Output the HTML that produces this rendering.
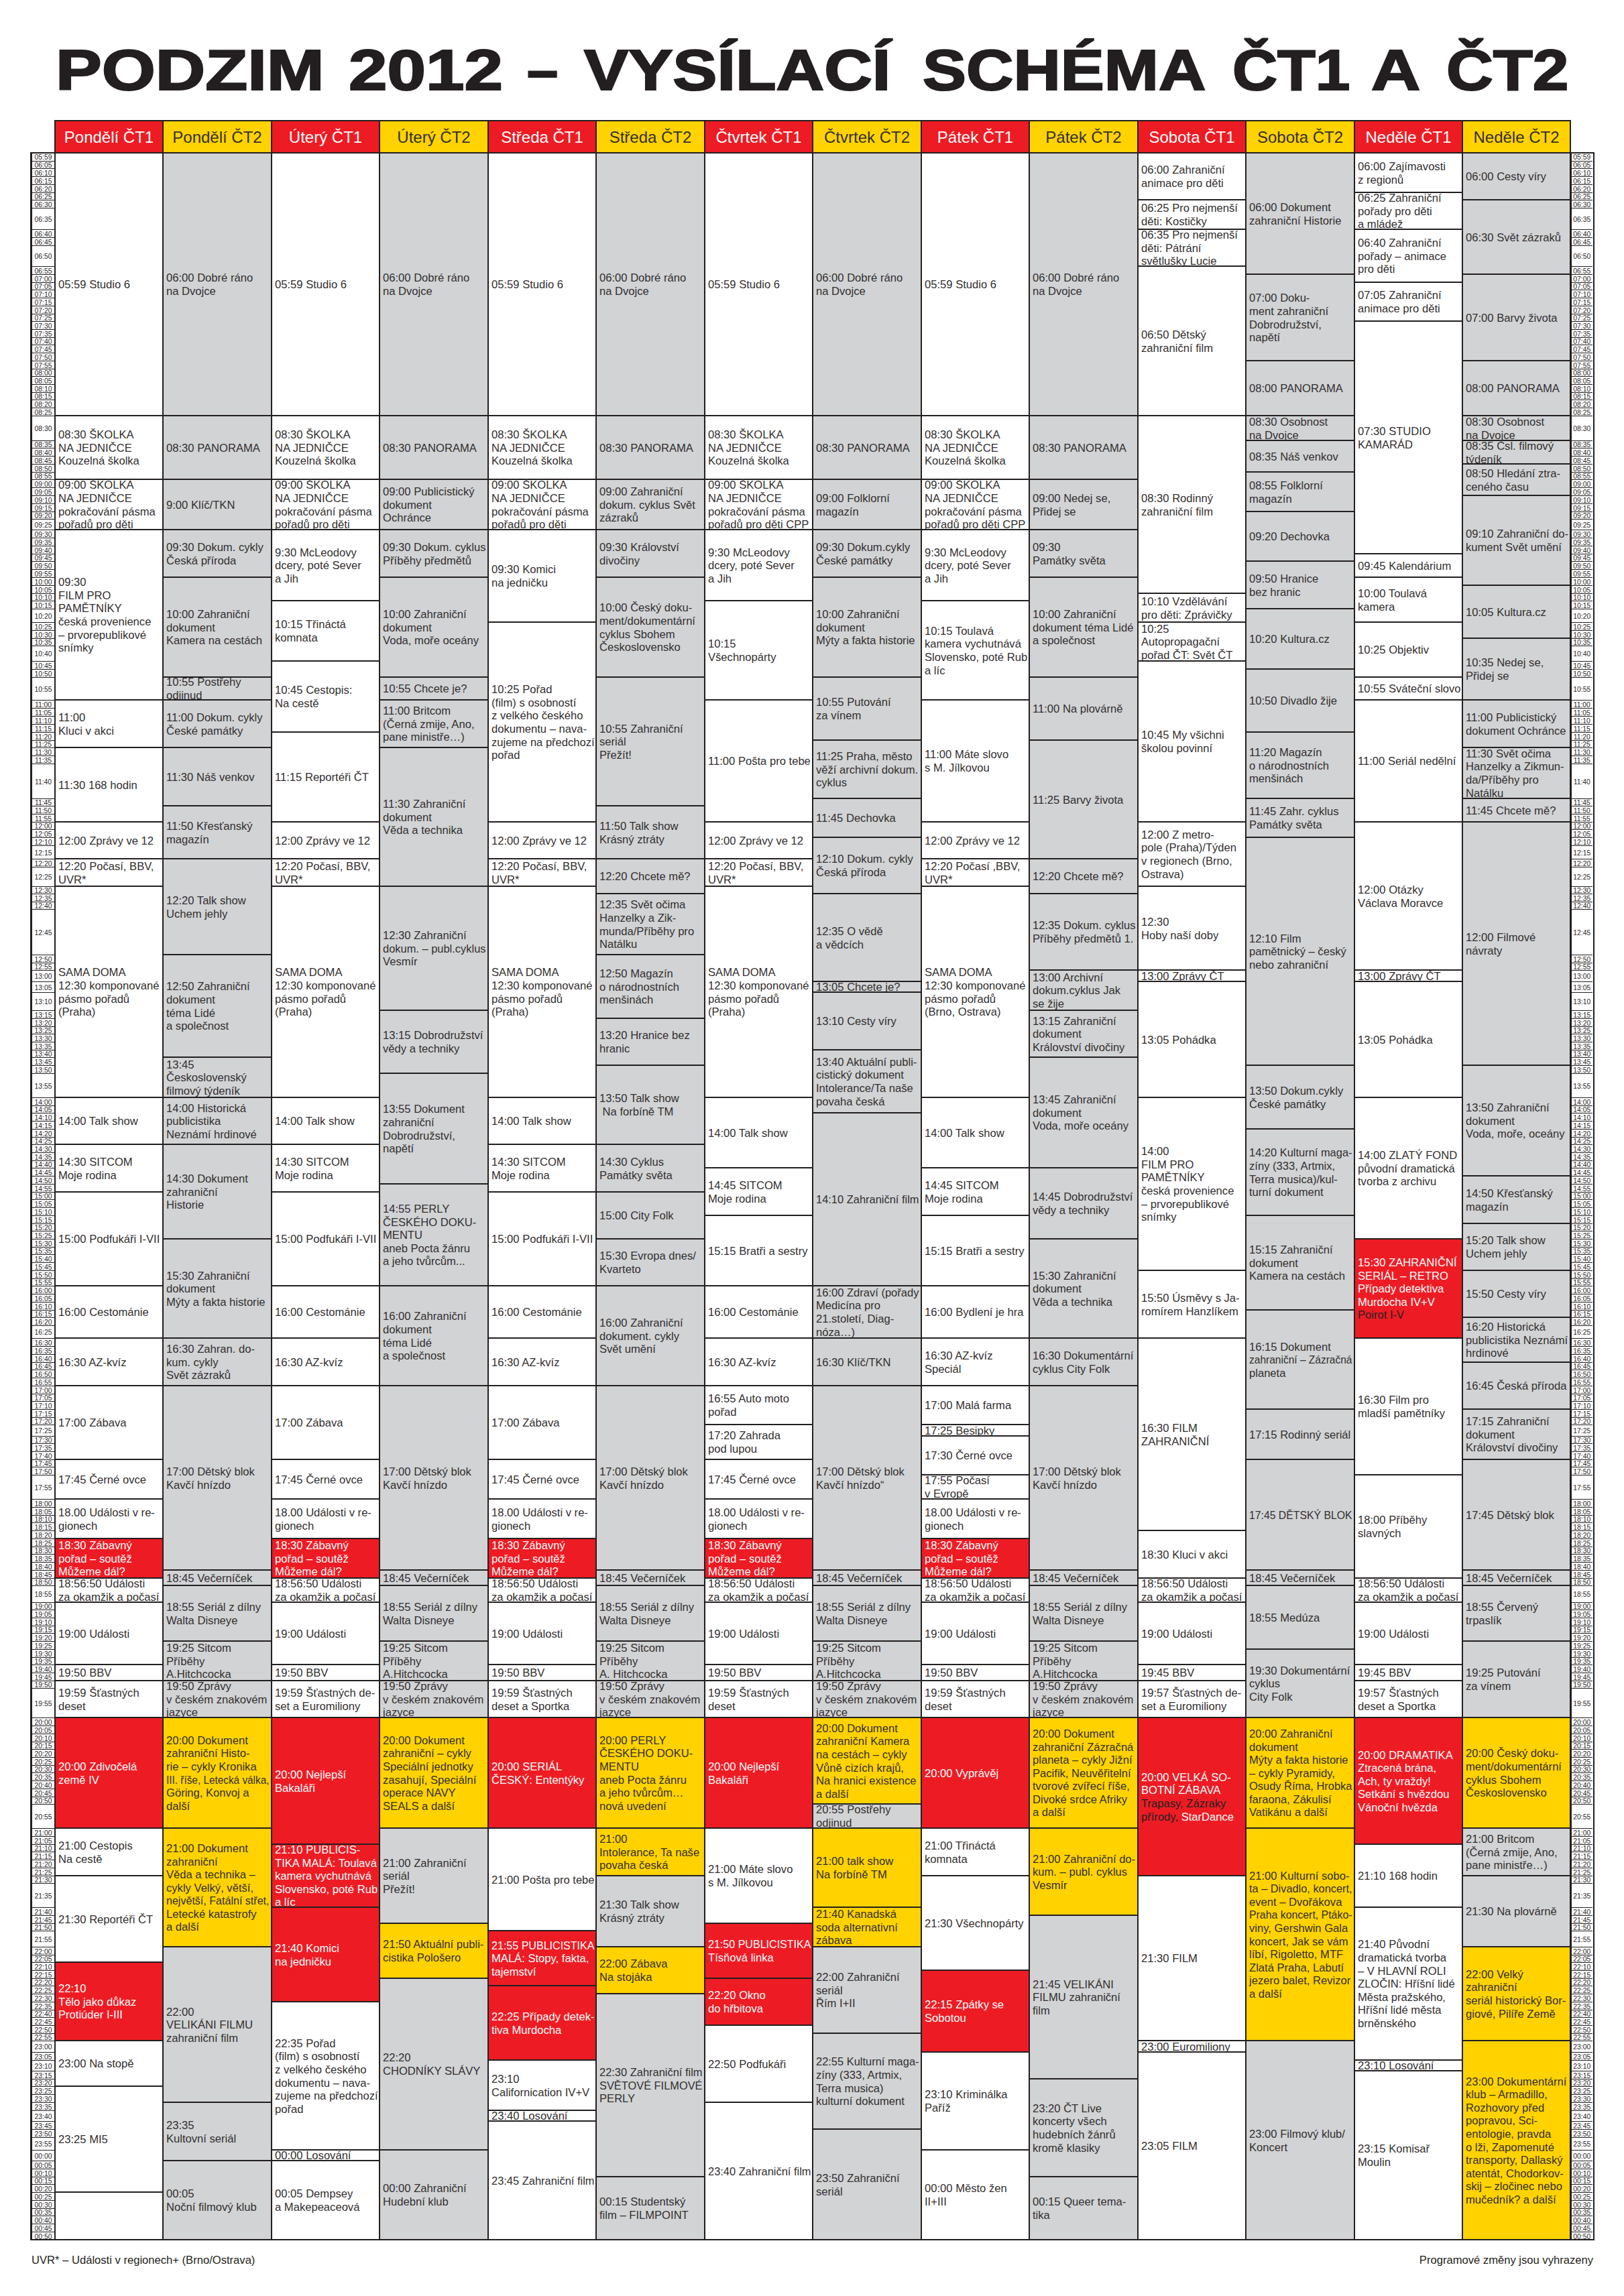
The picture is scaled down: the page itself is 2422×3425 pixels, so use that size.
<!DOCTYPE html>
<html lang="cs"><head><meta charset="utf-8"><title>Podzim 2012 – vysílací schéma ČT1 a ČT2</title>
<style>
html,body{margin:0;padding:0;background:#fff}
body{width:2422px;height:3425px;position:relative;overflow:hidden;font-family:"Liberation Sans",sans-serif;color:#231f20}
.c{position:absolute;box-sizing:border-box;border:2px solid #231f20;padding:2px 0 0 4px;display:flex;align-items:center;font-size:16.6px;line-height:19.6px;white-space:nowrap;overflow:visible}
.c span{display:block}
.w,.g,.y{color:#332f30}.w{background:#fff}.g{background:#d1d3d4}.y{background:#ffd200}.r{background:#ed1c24;color:#fff}
.r b{color:#231f20;font-weight:normal}
.h{position:absolute;box-sizing:border-box;border:2px solid #231f20;top:179px;height:50px;font-size:24px;line-height:48px;text-align:center;white-space:nowrap}
.t{position:absolute;box-sizing:border-box;border-top:1px solid #231f20;font-size:10.4px;text-align:center;display:flex;align-items:center;justify-content:center;color:#2b2728;padding-top:1px}
.tb{position:absolute;box-sizing:border-box;border:2px solid #231f20;background:#fff}
#title span{position:absolute;top:55px;font-size:85px;line-height:100px;font-weight:bold;white-space:nowrap;transform-origin:0 0;-webkit-text-stroke:2.2px #231f20;color:#231f20}
.f{position:absolute;font-size:16.6px;line-height:20px;white-space:nowrap;top:3362px}
</style></head><body>
<div id="title"><span style="left:82.5px;transform:scaleX(1.2121)">PODZIM</span> <span style="left:519.6px;transform:scaleX(1.2162)">2012</span> <span style="left:786.0px;transform:scaleX(0.9773)">–</span> <span style="left:871.1px;transform:scaleX(1.1667)">VYSÍLACÍ</span> <span style="left:1376.1px;transform:scaleX(1.1467)">SCHÉMA</span> <span style="left:1837.5px;transform:scaleX(1.0924)">ČT1</span> <span style="left:2045.4px;transform:scaleX(1.1932)">A</span> <span style="left:2156.7px;transform:scaleX(1.1365)">ČT2</span> </div>

<div class="h r" style="left:81px;width:163px">Pondělí ČT1</div>
<div class="h y" style="left:242px;width:164px">Pondělí ČT2</div>
<div class="h r" style="left:404px;width:163px">Úterý ČT1</div>
<div class="h y" style="left:565px;width:164px">Úterý ČT2</div>
<div class="h r" style="left:727px;width:163px">Středa ČT1</div>
<div class="h y" style="left:888px;width:164px">Středa ČT2</div>
<div class="h r" style="left:1050px;width:163px">Čtvrtek ČT1</div>
<div class="h y" style="left:1211px;width:164px">Čtvrtek ČT2</div>
<div class="h r" style="left:1373px;width:163px">Pátek ČT1</div>
<div class="h y" style="left:1534px;width:164px">Pátek ČT2</div>
<div class="h r" style="left:1696px;width:163px">Sobota ČT1</div>
<div class="h y" style="left:1857px;width:164px">Sobota ČT2</div>
<div class="h r" style="left:2019px;width:163px">Neděle ČT1</div>
<div class="h y" style="left:2180px;width:163px">Neděle ČT2</div>
<div class="tb" style="left:45px;top:227px;width:38px;height:3115px;border-left-width:3px;border-right-width:2px"></div>
<div class="t" style="left:48px;width:33px;top:228px;height:12px;border-top:0">05:59</div>
<div class="t" style="left:48px;width:33px;top:240px;height:11px">06:05</div>
<div class="t" style="left:48px;width:33px;top:251px;height:12px">06:10</div>
<div class="t" style="left:48px;width:33px;top:263px;height:12px">06:15</div>
<div class="t" style="left:48px;width:33px;top:275px;height:12px">06:20</div>
<div class="t" style="left:48px;width:33px;top:287px;height:11px">06:25</div>
<div class="t" style="left:48px;width:33px;top:298px;height:12px">06:30</div>
<div class="t" style="left:48px;width:33px;top:310px;height:32px">06:35</div>
<div class="t" style="left:48px;width:33px;top:342px;height:12px">06:40</div>
<div class="t" style="left:48px;width:33px;top:354px;height:12px">06:45</div>
<div class="t" style="left:48px;width:33px;top:366px;height:31px">06:50</div>
<div class="t" style="left:48px;width:33px;top:397px;height:12px">06:55</div>
<div class="t" style="left:48px;width:33px;top:409px;height:12px">07:00</div>
<div class="t" style="left:48px;width:33px;top:421px;height:11px">07:05</div>
<div class="t" style="left:48px;width:33px;top:432px;height:12px">07:10</div>
<div class="t" style="left:48px;width:33px;top:444px;height:12px">07:15</div>
<div class="t" style="left:48px;width:33px;top:456px;height:12px">07:20</div>
<div class="t" style="left:48px;width:33px;top:468px;height:11px">07:25</div>
<div class="t" style="left:48px;width:33px;top:479px;height:12px">07:30</div>
<div class="t" style="left:48px;width:33px;top:491px;height:12px">07:35</div>
<div class="t" style="left:48px;width:33px;top:503px;height:11px">07:40</div>
<div class="t" style="left:48px;width:33px;top:514px;height:12px">07:45</div>
<div class="t" style="left:48px;width:33px;top:526px;height:12px">07:50</div>
<div class="t" style="left:48px;width:33px;top:538px;height:12px">07:55</div>
<div class="t" style="left:48px;width:33px;top:550px;height:11px">08:00</div>
<div class="t" style="left:48px;width:33px;top:561px;height:12px">08:05</div>
<div class="t" style="left:48px;width:33px;top:573px;height:12px">08:10</div>
<div class="t" style="left:48px;width:33px;top:585px;height:11px">08:15</div>
<div class="t" style="left:48px;width:33px;top:596px;height:12px">08:20</div>
<div class="t" style="left:48px;width:33px;top:608px;height:12px">08:25</div>
<div class="t" style="left:48px;width:33px;top:620px;height:37px">08:30</div>
<div class="t" style="left:48px;width:33px;top:657px;height:11px">08:35</div>
<div class="t" style="left:48px;width:33px;top:668px;height:12px">08:40</div>
<div class="t" style="left:48px;width:33px;top:680px;height:12px">08:45</div>
<div class="t" style="left:48px;width:33px;top:692px;height:12px">08:50</div>
<div class="t" style="left:48px;width:33px;top:704px;height:11px">08:55</div>
<div class="t" style="left:48px;width:33px;top:715px;height:12px">09:00</div>
<div class="t" style="left:48px;width:33px;top:727px;height:12px">09:05</div>
<div class="t" style="left:48px;width:33px;top:739px;height:12px">09:10</div>
<div class="t" style="left:48px;width:33px;top:751px;height:12px">09:15</div>
<div class="t" style="left:48px;width:33px;top:763px;height:11px">09:20</div>
<div class="t" style="left:48px;width:33px;top:774px;height:16px">09:25</div>
<div class="t" style="left:48px;width:33px;top:790px;height:12px">09:30</div>
<div class="t" style="left:48px;width:33px;top:802px;height:12px">09:35</div>
<div class="t" style="left:48px;width:33px;top:814px;height:12px">09:40</div>
<div class="t" style="left:48px;width:33px;top:826px;height:11px">09:45</div>
<div class="t" style="left:48px;width:33px;top:837px;height:12px">09:50</div>
<div class="t" style="left:48px;width:33px;top:849px;height:12px">09:55</div>
<div class="t" style="left:48px;width:33px;top:861px;height:12px">10:00</div>
<div class="t" style="left:48px;width:33px;top:873px;height:12px">10:05</div>
<div class="t" style="left:48px;width:33px;top:885px;height:11px">10:10</div>
<div class="t" style="left:48px;width:33px;top:896px;height:12px">10:15</div>
<div class="t" style="left:48px;width:33px;top:908px;height:20px">10:20</div>
<div class="t" style="left:48px;width:33px;top:928px;height:12px">10:25</div>
<div class="t" style="left:48px;width:33px;top:940px;height:12px">10:30</div>
<div class="t" style="left:48px;width:33px;top:952px;height:11px">10:35</div>
<div class="t" style="left:48px;width:33px;top:963px;height:23px">10:40</div>
<div class="t" style="left:48px;width:33px;top:986px;height:12px">10:45</div>
<div class="t" style="left:48px;width:33px;top:998px;height:12px">10:50</div>
<div class="t" style="left:48px;width:33px;top:1010px;height:34px">10:55</div>
<div class="t" style="left:48px;width:33px;top:1044px;height:12px">11:00</div>
<div class="t" style="left:48px;width:33px;top:1056px;height:12px">11:05</div>
<div class="t" style="left:48px;width:33px;top:1068px;height:12px">11:10</div>
<div class="t" style="left:48px;width:33px;top:1080px;height:12px">11:15</div>
<div class="t" style="left:48px;width:33px;top:1092px;height:12px">11:20</div>
<div class="t" style="left:48px;width:33px;top:1104px;height:11px">11:25</div>
<div class="t" style="left:48px;width:33px;top:1115px;height:12px">11:30</div>
<div class="t" style="left:48px;width:33px;top:1127px;height:12px">11:35</div>
<div class="t" style="left:48px;width:33px;top:1139px;height:52px">11:40</div>
<div class="t" style="left:48px;width:33px;top:1191px;height:11px">11:45</div>
<div class="t" style="left:48px;width:33px;top:1202px;height:12px">11:50</div>
<div class="t" style="left:48px;width:33px;top:1214px;height:12px">11:55</div>
<div class="t" style="left:48px;width:33px;top:1226px;height:11px">12:00</div>
<div class="t" style="left:48px;width:33px;top:1237px;height:12px">12:05</div>
<div class="t" style="left:48px;width:33px;top:1249px;height:12px">12:10</div>
<div class="t" style="left:48px;width:33px;top:1261px;height:20px">12:15</div>
<div class="t" style="left:48px;width:33px;top:1281px;height:12px">12:20</div>
<div class="t" style="left:48px;width:33px;top:1293px;height:29px">12:25</div>
<div class="t" style="left:48px;width:33px;top:1322px;height:11px">12:30</div>
<div class="t" style="left:48px;width:33px;top:1333px;height:12px">12:35</div>
<div class="t" style="left:48px;width:33px;top:1345px;height:11px">12:40</div>
<div class="t" style="left:48px;width:33px;top:1356px;height:68px">12:45</div>
<div class="t" style="left:48px;width:33px;top:1424px;height:12px">12:50</div>
<div class="t" style="left:48px;width:33px;top:1436px;height:11px">12:55</div>
<div class="t" style="left:48px;width:33px;top:1447px;height:17px">13:00</div>
<div class="t" style="left:48px;width:33px;top:1464px;height:16px">13:05</div>
<div class="t" style="left:48px;width:33px;top:1480px;height:27px">13:10</div>
<div class="t" style="left:48px;width:33px;top:1507px;height:12px">13:15</div>
<div class="t" style="left:48px;width:33px;top:1519px;height:12px">13:20</div>
<div class="t" style="left:48px;width:33px;top:1531px;height:11px">13:25</div>
<div class="t" style="left:48px;width:33px;top:1542px;height:12px">13:30</div>
<div class="t" style="left:48px;width:33px;top:1554px;height:12px">13:35</div>
<div class="t" style="left:48px;width:33px;top:1566px;height:11px">13:40</div>
<div class="t" style="left:48px;width:33px;top:1577px;height:12px">13:45</div>
<div class="t" style="left:48px;width:33px;top:1589px;height:12px">13:50</div>
<div class="t" style="left:48px;width:33px;top:1601px;height:36px">13:55</div>
<div class="t" style="left:48px;width:33px;top:1637px;height:12px">14:00</div>
<div class="t" style="left:48px;width:33px;top:1649px;height:11px">14:05</div>
<div class="t" style="left:48px;width:33px;top:1660px;height:12px">14:10</div>
<div class="t" style="left:48px;width:33px;top:1672px;height:12px">14:15</div>
<div class="t" style="left:48px;width:33px;top:1684px;height:12px">14:20</div>
<div class="t" style="left:48px;width:33px;top:1696px;height:11px">14:25</div>
<div class="t" style="left:48px;width:33px;top:1707px;height:12px">14:30</div>
<div class="t" style="left:48px;width:33px;top:1719px;height:12px">14:35</div>
<div class="t" style="left:48px;width:33px;top:1731px;height:11px">14:40</div>
<div class="t" style="left:48px;width:33px;top:1742px;height:12px">14:45</div>
<div class="t" style="left:48px;width:33px;top:1754px;height:12px">14:50</div>
<div class="t" style="left:48px;width:33px;top:1766px;height:12px">14:55</div>
<div class="t" style="left:48px;width:33px;top:1778px;height:11px">15:00</div>
<div class="t" style="left:48px;width:33px;top:1789px;height:12px">15:05</div>
<div class="t" style="left:48px;width:33px;top:1801px;height:12px">15:10</div>
<div class="t" style="left:48px;width:33px;top:1813px;height:12px">15:15</div>
<div class="t" style="left:48px;width:33px;top:1825px;height:11px">15:20</div>
<div class="t" style="left:48px;width:33px;top:1836px;height:12px">15:25</div>
<div class="t" style="left:48px;width:33px;top:1848px;height:12px">15:30</div>
<div class="t" style="left:48px;width:33px;top:1860px;height:11px">15:35</div>
<div class="t" style="left:48px;width:33px;top:1871px;height:12px">15:40</div>
<div class="t" style="left:48px;width:33px;top:1883px;height:12px">15:45</div>
<div class="t" style="left:48px;width:33px;top:1895px;height:12px">15:50</div>
<div class="t" style="left:48px;width:33px;top:1907px;height:11px">15:55</div>
<div class="t" style="left:48px;width:33px;top:1918px;height:12px">16:00</div>
<div class="t" style="left:48px;width:33px;top:1930px;height:12px">16:05</div>
<div class="t" style="left:48px;width:33px;top:1942px;height:12px">16:10</div>
<div class="t" style="left:48px;width:33px;top:1954px;height:11px">16:15</div>
<div class="t" style="left:48px;width:33px;top:1965px;height:12px">16:20</div>
<div class="t" style="left:48px;width:33px;top:1977px;height:19px">16:25</div>
<div class="t" style="left:48px;width:33px;top:1996px;height:12px">16:30</div>
<div class="t" style="left:48px;width:33px;top:2008px;height:12px">16:35</div>
<div class="t" style="left:48px;width:33px;top:2020px;height:12px">16:40</div>
<div class="t" style="left:48px;width:33px;top:2032px;height:11px">16:45</div>
<div class="t" style="left:48px;width:33px;top:2043px;height:12px">16:50</div>
<div class="t" style="left:48px;width:33px;top:2055px;height:12px">16:55</div>
<div class="t" style="left:48px;width:33px;top:2067px;height:12px">17:00</div>
<div class="t" style="left:48px;width:33px;top:2079px;height:11px">17:05</div>
<div class="t" style="left:48px;width:33px;top:2090px;height:12px">17:10</div>
<div class="t" style="left:48px;width:33px;top:2102px;height:12px">17:15</div>
<div class="t" style="left:48px;width:33px;top:2114px;height:11px">17:20</div>
<div class="t" style="left:48px;width:33px;top:2125px;height:17px">17:25</div>
<div class="t" style="left:48px;width:33px;top:2142px;height:11px">17:30</div>
<div class="t" style="left:48px;width:33px;top:2153px;height:12px">17:35</div>
<div class="t" style="left:48px;width:33px;top:2165px;height:12px">17:40</div>
<div class="t" style="left:48px;width:33px;top:2177px;height:11px">17:45</div>
<div class="t" style="left:48px;width:33px;top:2188px;height:12px">17:50</div>
<div class="t" style="left:48px;width:33px;top:2200px;height:36px">17:55</div>
<div class="t" style="left:48px;width:33px;top:2236px;height:12px">18:00</div>
<div class="t" style="left:48px;width:33px;top:2248px;height:12px">18:05</div>
<div class="t" style="left:48px;width:33px;top:2260px;height:11px">18:10</div>
<div class="t" style="left:48px;width:33px;top:2271px;height:12px">18:15</div>
<div class="t" style="left:48px;width:33px;top:2283px;height:12px">18:20</div>
<div class="t" style="left:48px;width:33px;top:2295px;height:12px">18:25</div>
<div class="t" style="left:48px;width:33px;top:2307px;height:11px">18:30</div>
<div class="t" style="left:48px;width:33px;top:2318px;height:12px">18:35</div>
<div class="t" style="left:48px;width:33px;top:2330px;height:12px">18:40</div>
<div class="t" style="left:48px;width:33px;top:2342px;height:12px">18:45</div>
<div class="t" style="left:48px;width:33px;top:2354px;height:11px">18:50</div>
<div class="t" style="left:48px;width:33px;top:2365px;height:25px">18:55</div>
<div class="t" style="left:48px;width:33px;top:2390px;height:11px">19:00</div>
<div class="t" style="left:48px;width:33px;top:2401px;height:12px">19:05</div>
<div class="t" style="left:48px;width:33px;top:2413px;height:12px">19:10</div>
<div class="t" style="left:48px;width:33px;top:2425px;height:11px">19:15</div>
<div class="t" style="left:48px;width:33px;top:2436px;height:12px">19:20</div>
<div class="t" style="left:48px;width:33px;top:2448px;height:12px">19:25</div>
<div class="t" style="left:48px;width:33px;top:2460px;height:12px">19:30</div>
<div class="t" style="left:48px;width:33px;top:2472px;height:11px">19:35</div>
<div class="t" style="left:48px;width:33px;top:2483px;height:12px">19:40</div>
<div class="t" style="left:48px;width:33px;top:2495px;height:12px">19:45</div>
<div class="t" style="left:48px;width:33px;top:2507px;height:11px">19:50</div>
<div class="t" style="left:48px;width:33px;top:2518px;height:44px">19:55</div>
<div class="t" style="left:48px;width:33px;top:2562px;height:12px">20:00</div>
<div class="t" style="left:48px;width:33px;top:2574px;height:12px">20:05</div>
<div class="t" style="left:48px;width:33px;top:2586px;height:12px">20:10</div>
<div class="t" style="left:48px;width:33px;top:2598px;height:11px">20:15</div>
<div class="t" style="left:48px;width:33px;top:2609px;height:12px">20:20</div>
<div class="t" style="left:48px;width:33px;top:2621px;height:12px">20:25</div>
<div class="t" style="left:48px;width:33px;top:2633px;height:11px">20:30</div>
<div class="t" style="left:48px;width:33px;top:2644px;height:12px">20:35</div>
<div class="t" style="left:48px;width:33px;top:2656px;height:12px">20:40</div>
<div class="t" style="left:48px;width:33px;top:2668px;height:12px">20:45</div>
<div class="t" style="left:48px;width:33px;top:2680px;height:11px">20:50</div>
<div class="t" style="left:48px;width:33px;top:2691px;height:36px">20:55</div>
<div class="t" style="left:48px;width:33px;top:2727px;height:12px">21:00</div>
<div class="t" style="left:48px;width:33px;top:2739px;height:12px">21:05</div>
<div class="t" style="left:48px;width:33px;top:2751px;height:11px">21:10</div>
<div class="t" style="left:48px;width:33px;top:2762px;height:12px">21:15</div>
<div class="t" style="left:48px;width:33px;top:2774px;height:12px">21:20</div>
<div class="t" style="left:48px;width:33px;top:2786px;height:12px">21:25</div>
<div class="t" style="left:48px;width:33px;top:2798px;height:11px">21:30</div>
<div class="t" style="left:48px;width:33px;top:2809px;height:36px">21:35</div>
<div class="t" style="left:48px;width:33px;top:2845px;height:12px">21:40</div>
<div class="t" style="left:48px;width:33px;top:2857px;height:12px">21:45</div>
<div class="t" style="left:48px;width:33px;top:2869px;height:11px">21:50</div>
<div class="t" style="left:48px;width:33px;top:2880px;height:24px">21:55</div>
<div class="t" style="left:48px;width:33px;top:2904px;height:12px">22:00</div>
<div class="t" style="left:48px;width:33px;top:2916px;height:11px">22:05</div>
<div class="t" style="left:48px;width:33px;top:2927px;height:12px">22:10</div>
<div class="t" style="left:48px;width:33px;top:2939px;height:12px">22:15</div>
<div class="t" style="left:48px;width:33px;top:2951px;height:11px">22:20</div>
<div class="t" style="left:48px;width:33px;top:2962px;height:12px">22:25</div>
<div class="t" style="left:48px;width:33px;top:2974px;height:12px">22:30</div>
<div class="t" style="left:48px;width:33px;top:2986px;height:12px">22:35</div>
<div class="t" style="left:48px;width:33px;top:2998px;height:11px">22:40</div>
<div class="t" style="left:48px;width:33px;top:3009px;height:12px">22:45</div>
<div class="t" style="left:48px;width:33px;top:3021px;height:12px">22:50</div>
<div class="t" style="left:48px;width:33px;top:3033px;height:11px">22:55</div>
<div class="t" style="left:48px;width:33px;top:3044px;height:17px">23:00</div>
<div class="t" style="left:48px;width:33px;top:3061px;height:12px">23:05</div>
<div class="t" style="left:48px;width:33px;top:3073px;height:16px">23:10</div>
<div class="t" style="left:48px;width:33px;top:3089px;height:12px">23:15</div>
<div class="t" style="left:48px;width:33px;top:3101px;height:11px">23:20</div>
<div class="t" style="left:48px;width:33px;top:3112px;height:12px">23:25</div>
<div class="t" style="left:48px;width:33px;top:3124px;height:12px">23:30</div>
<div class="t" style="left:48px;width:33px;top:3136px;height:12px">23:35</div>
<div class="t" style="left:48px;width:33px;top:3148px;height:16px">23:40</div>
<div class="t" style="left:48px;width:33px;top:3164px;height:12px">23:45</div>
<div class="t" style="left:48px;width:33px;top:3176px;height:12px">23:50</div>
<div class="t" style="left:48px;width:33px;top:3188px;height:19px">23:55</div>
<div class="t" style="left:48px;width:33px;top:3207px;height:16px">00:00</div>
<div class="t" style="left:48px;width:33px;top:3223px;height:12px">00:05</div>
<div class="t" style="left:48px;width:33px;top:3235px;height:12px">00:10</div>
<div class="t" style="left:48px;width:33px;top:3247px;height:11px">00:15</div>
<div class="t" style="left:48px;width:33px;top:3258px;height:12px">00:20</div>
<div class="t" style="left:48px;width:33px;top:3270px;height:12px">00:25</div>
<div class="t" style="left:48px;width:33px;top:3282px;height:12px">00:30</div>
<div class="t" style="left:48px;width:33px;top:3294px;height:11px">00:35</div>
<div class="t" style="left:48px;width:33px;top:3305px;height:12px">00:40</div>
<div class="t" style="left:48px;width:33px;top:3317px;height:12px">00:45</div>
<div class="t" style="left:48px;width:33px;top:3329px;height:12px">00:50</div>
<div class="tb" style="left:2341.5px;top:227px;width:36.0px;height:3115px;border-left-width:2px;border-right-width:2.5px"></div>
<div class="t" style="left:2343.5px;width:31.5px;top:228px;height:12px;border-top:0">05:59</div>
<div class="t" style="left:2343.5px;width:31.5px;top:240px;height:11px">06:05</div>
<div class="t" style="left:2343.5px;width:31.5px;top:251px;height:12px">06:10</div>
<div class="t" style="left:2343.5px;width:31.5px;top:263px;height:12px">06:15</div>
<div class="t" style="left:2343.5px;width:31.5px;top:275px;height:12px">06:20</div>
<div class="t" style="left:2343.5px;width:31.5px;top:287px;height:11px">06:25</div>
<div class="t" style="left:2343.5px;width:31.5px;top:298px;height:12px">06:30</div>
<div class="t" style="left:2343.5px;width:31.5px;top:310px;height:32px">06:35</div>
<div class="t" style="left:2343.5px;width:31.5px;top:342px;height:12px">06:40</div>
<div class="t" style="left:2343.5px;width:31.5px;top:354px;height:12px">06:45</div>
<div class="t" style="left:2343.5px;width:31.5px;top:366px;height:31px">06:50</div>
<div class="t" style="left:2343.5px;width:31.5px;top:397px;height:12px">06:55</div>
<div class="t" style="left:2343.5px;width:31.5px;top:409px;height:12px">07:00</div>
<div class="t" style="left:2343.5px;width:31.5px;top:421px;height:11px">07:05</div>
<div class="t" style="left:2343.5px;width:31.5px;top:432px;height:12px">07:10</div>
<div class="t" style="left:2343.5px;width:31.5px;top:444px;height:12px">07:15</div>
<div class="t" style="left:2343.5px;width:31.5px;top:456px;height:12px">07:20</div>
<div class="t" style="left:2343.5px;width:31.5px;top:468px;height:11px">07:25</div>
<div class="t" style="left:2343.5px;width:31.5px;top:479px;height:12px">07:30</div>
<div class="t" style="left:2343.5px;width:31.5px;top:491px;height:12px">07:35</div>
<div class="t" style="left:2343.5px;width:31.5px;top:503px;height:11px">07:40</div>
<div class="t" style="left:2343.5px;width:31.5px;top:514px;height:12px">07:45</div>
<div class="t" style="left:2343.5px;width:31.5px;top:526px;height:12px">07:50</div>
<div class="t" style="left:2343.5px;width:31.5px;top:538px;height:12px">07:55</div>
<div class="t" style="left:2343.5px;width:31.5px;top:550px;height:11px">08:00</div>
<div class="t" style="left:2343.5px;width:31.5px;top:561px;height:12px">08:05</div>
<div class="t" style="left:2343.5px;width:31.5px;top:573px;height:12px">08:10</div>
<div class="t" style="left:2343.5px;width:31.5px;top:585px;height:11px">08:15</div>
<div class="t" style="left:2343.5px;width:31.5px;top:596px;height:12px">08:20</div>
<div class="t" style="left:2343.5px;width:31.5px;top:608px;height:12px">08:25</div>
<div class="t" style="left:2343.5px;width:31.5px;top:620px;height:37px">08:30</div>
<div class="t" style="left:2343.5px;width:31.5px;top:657px;height:11px">08:35</div>
<div class="t" style="left:2343.5px;width:31.5px;top:668px;height:12px">08:40</div>
<div class="t" style="left:2343.5px;width:31.5px;top:680px;height:12px">08:45</div>
<div class="t" style="left:2343.5px;width:31.5px;top:692px;height:12px">08:50</div>
<div class="t" style="left:2343.5px;width:31.5px;top:704px;height:11px">08:55</div>
<div class="t" style="left:2343.5px;width:31.5px;top:715px;height:12px">09:00</div>
<div class="t" style="left:2343.5px;width:31.5px;top:727px;height:12px">09:05</div>
<div class="t" style="left:2343.5px;width:31.5px;top:739px;height:12px">09:10</div>
<div class="t" style="left:2343.5px;width:31.5px;top:751px;height:12px">09:15</div>
<div class="t" style="left:2343.5px;width:31.5px;top:763px;height:11px">09:20</div>
<div class="t" style="left:2343.5px;width:31.5px;top:774px;height:16px">09:25</div>
<div class="t" style="left:2343.5px;width:31.5px;top:790px;height:12px">09:30</div>
<div class="t" style="left:2343.5px;width:31.5px;top:802px;height:12px">09:35</div>
<div class="t" style="left:2343.5px;width:31.5px;top:814px;height:12px">09:40</div>
<div class="t" style="left:2343.5px;width:31.5px;top:826px;height:11px">09:45</div>
<div class="t" style="left:2343.5px;width:31.5px;top:837px;height:12px">09:50</div>
<div class="t" style="left:2343.5px;width:31.5px;top:849px;height:12px">09:55</div>
<div class="t" style="left:2343.5px;width:31.5px;top:861px;height:12px">10:00</div>
<div class="t" style="left:2343.5px;width:31.5px;top:873px;height:12px">10:05</div>
<div class="t" style="left:2343.5px;width:31.5px;top:885px;height:11px">10:10</div>
<div class="t" style="left:2343.5px;width:31.5px;top:896px;height:12px">10:15</div>
<div class="t" style="left:2343.5px;width:31.5px;top:908px;height:20px">10:20</div>
<div class="t" style="left:2343.5px;width:31.5px;top:928px;height:12px">10:25</div>
<div class="t" style="left:2343.5px;width:31.5px;top:940px;height:12px">10:30</div>
<div class="t" style="left:2343.5px;width:31.5px;top:952px;height:11px">10:35</div>
<div class="t" style="left:2343.5px;width:31.5px;top:963px;height:23px">10:40</div>
<div class="t" style="left:2343.5px;width:31.5px;top:986px;height:12px">10:45</div>
<div class="t" style="left:2343.5px;width:31.5px;top:998px;height:12px">10:50</div>
<div class="t" style="left:2343.5px;width:31.5px;top:1010px;height:34px">10:55</div>
<div class="t" style="left:2343.5px;width:31.5px;top:1044px;height:12px">11:00</div>
<div class="t" style="left:2343.5px;width:31.5px;top:1056px;height:12px">11:05</div>
<div class="t" style="left:2343.5px;width:31.5px;top:1068px;height:12px">11:10</div>
<div class="t" style="left:2343.5px;width:31.5px;top:1080px;height:12px">11:15</div>
<div class="t" style="left:2343.5px;width:31.5px;top:1092px;height:12px">11:20</div>
<div class="t" style="left:2343.5px;width:31.5px;top:1104px;height:11px">11:25</div>
<div class="t" style="left:2343.5px;width:31.5px;top:1115px;height:12px">11:30</div>
<div class="t" style="left:2343.5px;width:31.5px;top:1127px;height:12px">11:35</div>
<div class="t" style="left:2343.5px;width:31.5px;top:1139px;height:52px">11:40</div>
<div class="t" style="left:2343.5px;width:31.5px;top:1191px;height:11px">11:45</div>
<div class="t" style="left:2343.5px;width:31.5px;top:1202px;height:12px">11:50</div>
<div class="t" style="left:2343.5px;width:31.5px;top:1214px;height:12px">11:55</div>
<div class="t" style="left:2343.5px;width:31.5px;top:1226px;height:11px">12:00</div>
<div class="t" style="left:2343.5px;width:31.5px;top:1237px;height:12px">12:05</div>
<div class="t" style="left:2343.5px;width:31.5px;top:1249px;height:12px">12:10</div>
<div class="t" style="left:2343.5px;width:31.5px;top:1261px;height:20px">12:15</div>
<div class="t" style="left:2343.5px;width:31.5px;top:1281px;height:12px">12:20</div>
<div class="t" style="left:2343.5px;width:31.5px;top:1293px;height:29px">12:25</div>
<div class="t" style="left:2343.5px;width:31.5px;top:1322px;height:11px">12:30</div>
<div class="t" style="left:2343.5px;width:31.5px;top:1333px;height:12px">12:35</div>
<div class="t" style="left:2343.5px;width:31.5px;top:1345px;height:11px">12:40</div>
<div class="t" style="left:2343.5px;width:31.5px;top:1356px;height:68px">12:45</div>
<div class="t" style="left:2343.5px;width:31.5px;top:1424px;height:12px">12:50</div>
<div class="t" style="left:2343.5px;width:31.5px;top:1436px;height:11px">12:55</div>
<div class="t" style="left:2343.5px;width:31.5px;top:1447px;height:17px">13:00</div>
<div class="t" style="left:2343.5px;width:31.5px;top:1464px;height:16px">13:05</div>
<div class="t" style="left:2343.5px;width:31.5px;top:1480px;height:27px">13:10</div>
<div class="t" style="left:2343.5px;width:31.5px;top:1507px;height:12px">13:15</div>
<div class="t" style="left:2343.5px;width:31.5px;top:1519px;height:12px">13:20</div>
<div class="t" style="left:2343.5px;width:31.5px;top:1531px;height:11px">13:25</div>
<div class="t" style="left:2343.5px;width:31.5px;top:1542px;height:12px">13:30</div>
<div class="t" style="left:2343.5px;width:31.5px;top:1554px;height:12px">13:35</div>
<div class="t" style="left:2343.5px;width:31.5px;top:1566px;height:11px">13:40</div>
<div class="t" style="left:2343.5px;width:31.5px;top:1577px;height:12px">13:45</div>
<div class="t" style="left:2343.5px;width:31.5px;top:1589px;height:12px">13:50</div>
<div class="t" style="left:2343.5px;width:31.5px;top:1601px;height:36px">13:55</div>
<div class="t" style="left:2343.5px;width:31.5px;top:1637px;height:12px">14:00</div>
<div class="t" style="left:2343.5px;width:31.5px;top:1649px;height:11px">14:05</div>
<div class="t" style="left:2343.5px;width:31.5px;top:1660px;height:12px">14:10</div>
<div class="t" style="left:2343.5px;width:31.5px;top:1672px;height:12px">14:15</div>
<div class="t" style="left:2343.5px;width:31.5px;top:1684px;height:12px">14:20</div>
<div class="t" style="left:2343.5px;width:31.5px;top:1696px;height:11px">14:25</div>
<div class="t" style="left:2343.5px;width:31.5px;top:1707px;height:12px">14:30</div>
<div class="t" style="left:2343.5px;width:31.5px;top:1719px;height:12px">14:35</div>
<div class="t" style="left:2343.5px;width:31.5px;top:1731px;height:11px">14:40</div>
<div class="t" style="left:2343.5px;width:31.5px;top:1742px;height:12px">14:45</div>
<div class="t" style="left:2343.5px;width:31.5px;top:1754px;height:12px">14:50</div>
<div class="t" style="left:2343.5px;width:31.5px;top:1766px;height:12px">14:55</div>
<div class="t" style="left:2343.5px;width:31.5px;top:1778px;height:11px">15:00</div>
<div class="t" style="left:2343.5px;width:31.5px;top:1789px;height:12px">15:05</div>
<div class="t" style="left:2343.5px;width:31.5px;top:1801px;height:12px">15:10</div>
<div class="t" style="left:2343.5px;width:31.5px;top:1813px;height:12px">15:15</div>
<div class="t" style="left:2343.5px;width:31.5px;top:1825px;height:11px">15:20</div>
<div class="t" style="left:2343.5px;width:31.5px;top:1836px;height:12px">15:25</div>
<div class="t" style="left:2343.5px;width:31.5px;top:1848px;height:12px">15:30</div>
<div class="t" style="left:2343.5px;width:31.5px;top:1860px;height:11px">15:35</div>
<div class="t" style="left:2343.5px;width:31.5px;top:1871px;height:12px">15:40</div>
<div class="t" style="left:2343.5px;width:31.5px;top:1883px;height:12px">15:45</div>
<div class="t" style="left:2343.5px;width:31.5px;top:1895px;height:12px">15:50</div>
<div class="t" style="left:2343.5px;width:31.5px;top:1907px;height:11px">15:55</div>
<div class="t" style="left:2343.5px;width:31.5px;top:1918px;height:12px">16:00</div>
<div class="t" style="left:2343.5px;width:31.5px;top:1930px;height:12px">16:05</div>
<div class="t" style="left:2343.5px;width:31.5px;top:1942px;height:12px">16:10</div>
<div class="t" style="left:2343.5px;width:31.5px;top:1954px;height:11px">16:15</div>
<div class="t" style="left:2343.5px;width:31.5px;top:1965px;height:12px">16:20</div>
<div class="t" style="left:2343.5px;width:31.5px;top:1977px;height:19px">16:25</div>
<div class="t" style="left:2343.5px;width:31.5px;top:1996px;height:12px">16:30</div>
<div class="t" style="left:2343.5px;width:31.5px;top:2008px;height:12px">16:35</div>
<div class="t" style="left:2343.5px;width:31.5px;top:2020px;height:12px">16:40</div>
<div class="t" style="left:2343.5px;width:31.5px;top:2032px;height:11px">16:45</div>
<div class="t" style="left:2343.5px;width:31.5px;top:2043px;height:12px">16:50</div>
<div class="t" style="left:2343.5px;width:31.5px;top:2055px;height:12px">16:55</div>
<div class="t" style="left:2343.5px;width:31.5px;top:2067px;height:12px">17:00</div>
<div class="t" style="left:2343.5px;width:31.5px;top:2079px;height:11px">17:05</div>
<div class="t" style="left:2343.5px;width:31.5px;top:2090px;height:12px">17:10</div>
<div class="t" style="left:2343.5px;width:31.5px;top:2102px;height:12px">17:15</div>
<div class="t" style="left:2343.5px;width:31.5px;top:2114px;height:11px">17:20</div>
<div class="t" style="left:2343.5px;width:31.5px;top:2125px;height:17px">17:25</div>
<div class="t" style="left:2343.5px;width:31.5px;top:2142px;height:11px">17:30</div>
<div class="t" style="left:2343.5px;width:31.5px;top:2153px;height:12px">17:35</div>
<div class="t" style="left:2343.5px;width:31.5px;top:2165px;height:12px">17:40</div>
<div class="t" style="left:2343.5px;width:31.5px;top:2177px;height:11px">17:45</div>
<div class="t" style="left:2343.5px;width:31.5px;top:2188px;height:12px">17:50</div>
<div class="t" style="left:2343.5px;width:31.5px;top:2200px;height:36px">17:55</div>
<div class="t" style="left:2343.5px;width:31.5px;top:2236px;height:12px">18:00</div>
<div class="t" style="left:2343.5px;width:31.5px;top:2248px;height:12px">18:05</div>
<div class="t" style="left:2343.5px;width:31.5px;top:2260px;height:11px">18:10</div>
<div class="t" style="left:2343.5px;width:31.5px;top:2271px;height:12px">18:15</div>
<div class="t" style="left:2343.5px;width:31.5px;top:2283px;height:12px">18:20</div>
<div class="t" style="left:2343.5px;width:31.5px;top:2295px;height:12px">18:25</div>
<div class="t" style="left:2343.5px;width:31.5px;top:2307px;height:11px">18:30</div>
<div class="t" style="left:2343.5px;width:31.5px;top:2318px;height:12px">18:35</div>
<div class="t" style="left:2343.5px;width:31.5px;top:2330px;height:12px">18:40</div>
<div class="t" style="left:2343.5px;width:31.5px;top:2342px;height:12px">18:45</div>
<div class="t" style="left:2343.5px;width:31.5px;top:2354px;height:11px">18:50</div>
<div class="t" style="left:2343.5px;width:31.5px;top:2365px;height:25px">18:55</div>
<div class="t" style="left:2343.5px;width:31.5px;top:2390px;height:11px">19:00</div>
<div class="t" style="left:2343.5px;width:31.5px;top:2401px;height:12px">19:05</div>
<div class="t" style="left:2343.5px;width:31.5px;top:2413px;height:12px">19:10</div>
<div class="t" style="left:2343.5px;width:31.5px;top:2425px;height:11px">19:15</div>
<div class="t" style="left:2343.5px;width:31.5px;top:2436px;height:12px">19:20</div>
<div class="t" style="left:2343.5px;width:31.5px;top:2448px;height:12px">19:25</div>
<div class="t" style="left:2343.5px;width:31.5px;top:2460px;height:12px">19:30</div>
<div class="t" style="left:2343.5px;width:31.5px;top:2472px;height:11px">19:35</div>
<div class="t" style="left:2343.5px;width:31.5px;top:2483px;height:12px">19:40</div>
<div class="t" style="left:2343.5px;width:31.5px;top:2495px;height:12px">19:45</div>
<div class="t" style="left:2343.5px;width:31.5px;top:2507px;height:11px">19:50</div>
<div class="t" style="left:2343.5px;width:31.5px;top:2518px;height:44px">19:55</div>
<div class="t" style="left:2343.5px;width:31.5px;top:2562px;height:12px">20:00</div>
<div class="t" style="left:2343.5px;width:31.5px;top:2574px;height:12px">20:05</div>
<div class="t" style="left:2343.5px;width:31.5px;top:2586px;height:12px">20:10</div>
<div class="t" style="left:2343.5px;width:31.5px;top:2598px;height:11px">20:15</div>
<div class="t" style="left:2343.5px;width:31.5px;top:2609px;height:12px">20:20</div>
<div class="t" style="left:2343.5px;width:31.5px;top:2621px;height:12px">20:25</div>
<div class="t" style="left:2343.5px;width:31.5px;top:2633px;height:11px">20:30</div>
<div class="t" style="left:2343.5px;width:31.5px;top:2644px;height:12px">20:35</div>
<div class="t" style="left:2343.5px;width:31.5px;top:2656px;height:12px">20:40</div>
<div class="t" style="left:2343.5px;width:31.5px;top:2668px;height:12px">20:45</div>
<div class="t" style="left:2343.5px;width:31.5px;top:2680px;height:11px">20:50</div>
<div class="t" style="left:2343.5px;width:31.5px;top:2691px;height:36px">20:55</div>
<div class="t" style="left:2343.5px;width:31.5px;top:2727px;height:12px">21:00</div>
<div class="t" style="left:2343.5px;width:31.5px;top:2739px;height:12px">21:05</div>
<div class="t" style="left:2343.5px;width:31.5px;top:2751px;height:11px">21:10</div>
<div class="t" style="left:2343.5px;width:31.5px;top:2762px;height:12px">21:15</div>
<div class="t" style="left:2343.5px;width:31.5px;top:2774px;height:12px">21:20</div>
<div class="t" style="left:2343.5px;width:31.5px;top:2786px;height:12px">21:25</div>
<div class="t" style="left:2343.5px;width:31.5px;top:2798px;height:11px">21:30</div>
<div class="t" style="left:2343.5px;width:31.5px;top:2809px;height:36px">21:35</div>
<div class="t" style="left:2343.5px;width:31.5px;top:2845px;height:12px">21:40</div>
<div class="t" style="left:2343.5px;width:31.5px;top:2857px;height:12px">21:45</div>
<div class="t" style="left:2343.5px;width:31.5px;top:2869px;height:11px">21:50</div>
<div class="t" style="left:2343.5px;width:31.5px;top:2880px;height:24px">21:55</div>
<div class="t" style="left:2343.5px;width:31.5px;top:2904px;height:12px">22:00</div>
<div class="t" style="left:2343.5px;width:31.5px;top:2916px;height:11px">22:05</div>
<div class="t" style="left:2343.5px;width:31.5px;top:2927px;height:12px">22:10</div>
<div class="t" style="left:2343.5px;width:31.5px;top:2939px;height:12px">22:15</div>
<div class="t" style="left:2343.5px;width:31.5px;top:2951px;height:11px">22:20</div>
<div class="t" style="left:2343.5px;width:31.5px;top:2962px;height:12px">22:25</div>
<div class="t" style="left:2343.5px;width:31.5px;top:2974px;height:12px">22:30</div>
<div class="t" style="left:2343.5px;width:31.5px;top:2986px;height:12px">22:35</div>
<div class="t" style="left:2343.5px;width:31.5px;top:2998px;height:11px">22:40</div>
<div class="t" style="left:2343.5px;width:31.5px;top:3009px;height:12px">22:45</div>
<div class="t" style="left:2343.5px;width:31.5px;top:3021px;height:12px">22:50</div>
<div class="t" style="left:2343.5px;width:31.5px;top:3033px;height:11px">22:55</div>
<div class="t" style="left:2343.5px;width:31.5px;top:3044px;height:17px">23:00</div>
<div class="t" style="left:2343.5px;width:31.5px;top:3061px;height:12px">23:05</div>
<div class="t" style="left:2343.5px;width:31.5px;top:3073px;height:16px">23:10</div>
<div class="t" style="left:2343.5px;width:31.5px;top:3089px;height:12px">23:15</div>
<div class="t" style="left:2343.5px;width:31.5px;top:3101px;height:11px">23:20</div>
<div class="t" style="left:2343.5px;width:31.5px;top:3112px;height:12px">23:25</div>
<div class="t" style="left:2343.5px;width:31.5px;top:3124px;height:12px">23:30</div>
<div class="t" style="left:2343.5px;width:31.5px;top:3136px;height:12px">23:35</div>
<div class="t" style="left:2343.5px;width:31.5px;top:3148px;height:16px">23:40</div>
<div class="t" style="left:2343.5px;width:31.5px;top:3164px;height:12px">23:45</div>
<div class="t" style="left:2343.5px;width:31.5px;top:3176px;height:12px">23:50</div>
<div class="t" style="left:2343.5px;width:31.5px;top:3188px;height:19px">23:55</div>
<div class="t" style="left:2343.5px;width:31.5px;top:3207px;height:16px">00:00</div>
<div class="t" style="left:2343.5px;width:31.5px;top:3223px;height:12px">00:05</div>
<div class="t" style="left:2343.5px;width:31.5px;top:3235px;height:12px">00:10</div>
<div class="t" style="left:2343.5px;width:31.5px;top:3247px;height:11px">00:15</div>
<div class="t" style="left:2343.5px;width:31.5px;top:3258px;height:12px">00:20</div>
<div class="t" style="left:2343.5px;width:31.5px;top:3270px;height:12px">00:25</div>
<div class="t" style="left:2343.5px;width:31.5px;top:3282px;height:12px">00:30</div>
<div class="t" style="left:2343.5px;width:31.5px;top:3294px;height:11px">00:35</div>
<div class="t" style="left:2343.5px;width:31.5px;top:3305px;height:12px">00:40</div>
<div class="t" style="left:2343.5px;width:31.5px;top:3317px;height:12px">00:45</div>
<div class="t" style="left:2343.5px;width:31.5px;top:3329px;height:12px">00:50</div>
<div class="c w" style="left:81px;top:227px;width:163px;height:394px"><div><span>05:59 Studio 6</span></div></div>
<div class="c w" style="left:81px;top:619px;width:163px;height:97px"><div><span>08:30 ŠKOLKA</span><span>NA JEDNIČCE</span><span>Kouzelná školka</span></div></div>
<div class="c w" style="left:81px;top:714px;width:163px;height:77px"><div><span>09:00 ŠKOLKA</span><span>NA JEDNIČCE</span><span>pokračování pásma</span><span>pořadů pro děti</span></div></div>
<div class="c w" style="left:81px;top:789px;width:163px;height:256px"><div><span>09:30</span><span>FILM PRO</span><span>PAMĚTNÍKY</span><span>česká provenience</span><span>– prvorepublikové</span><span>snímky</span></div></div>
<div class="c w" style="left:81px;top:1043px;width:163px;height:73px"><div><span>11:00</span><span>Kluci v akci</span></div></div>
<div class="c w" style="left:81px;top:1114px;width:163px;height:113px"><div><span>11:30 168 hodin</span></div></div>
<div class="c w" style="left:81px;top:1225px;width:163px;height:57px"><div><span>12:00 Zprávy ve 12</span></div></div>
<div class="c w" style="left:81px;top:1280px;width:163px;height:43px"><div><span>12:20 Počasí, BBV,</span><span>UVR*</span></div></div>
<div class="c w" style="left:81px;top:1321px;width:163px;height:317px"><div><span>SAMA DOMA</span><span>12:30 komponované</span><span>pásmo pořadů</span><span>(Praha)</span></div></div>
<div class="c w" style="left:81px;top:1636px;width:163px;height:72px"><div><span>14:00 Talk show</span></div></div>
<div class="c w" style="left:81px;top:1706px;width:163px;height:73px"><div><span>14:30 SITCOM</span><span>Moje rodina</span></div></div>
<div class="c w" style="left:81px;top:1777px;width:163px;height:142px"><div><span>15:00 Podfukáři I-VII</span></div></div>
<div class="c w" style="left:81px;top:1917px;width:163px;height:80px"><div><span>16:00 Cestománie</span></div></div>
<div class="c w" style="left:81px;top:1995px;width:163px;height:73px"><div><span>16:30 AZ-kvíz</span></div></div>
<div class="c w" style="left:81px;top:2066px;width:163px;height:112px"><div><span>17:00 Zábava</span></div></div>
<div class="c w" style="left:81px;top:2176px;width:163px;height:61px"><div><span>17:45 Černé ovce</span></div></div>
<div class="c w" style="left:81px;top:2235px;width:163px;height:61px"><div><span>18.00 Události v re-</span><span>gionech</span></div></div>
<div class="c r" style="left:81px;top:2294px;width:163px;height:61px"><div><span>18:30 Zábavný</span><span>pořad – soutěž</span><span>Můžeme dál?</span></div></div>
<div class="c w" style="left:81px;top:2353px;width:163px;height:38px"><div><span>18:56:50 Události</span><span>za okamžik a počasí</span></div></div>
<div class="c w" style="left:81px;top:2389px;width:163px;height:95px"><div><span>19:00 Události</span></div></div>
<div class="c w" style="left:81px;top:2482px;width:163px;height:26px"><div><span>19:50 BBV</span></div></div>
<div class="c w" style="left:81px;top:2506px;width:163px;height:57px"><div><span>19:59 Šťastných</span><span>deset</span></div></div>
<div class="c r" style="left:81px;top:2561px;width:163px;height:167px"><div><span>20:00 Zdivočelá</span><span>země IV</span></div></div>
<div class="c w" style="left:81px;top:2726px;width:163px;height:73px"><div><span>21:00 Cestopis</span><span>Na cestě</span></div></div>
<div class="c w" style="left:81px;top:2797px;width:163px;height:131px"><div><span>21:30 Reportéři ČT</span></div></div>
<div class="c r" style="left:81px;top:2926px;width:163px;height:119px"><div><span>22:10</span><span>Tělo jako důkaz</span><span>Protiúder I-III</span></div></div>
<div class="c w" style="left:81px;top:3043px;width:163px;height:70px"><div><span>23:00 Na stopě</span></div></div>
<div class="c w" style="left:81px;top:3111px;width:163px;height:160px"><div><span>23:25 MI5</span></div></div>
<div class="c w" style="left:81px;top:3269px;width:163px;height:73px"><div></div></div>
<div class="c g" style="left:242px;top:227px;width:164px;height:394px"><div><span>06:00 Dobré ráno</span><span>na Dvojce</span></div></div>
<div class="c g" style="left:242px;top:619px;width:164px;height:97px"><div><span>08:30 PANORAMA</span></div></div>
<div class="c g" style="left:242px;top:714px;width:164px;height:77px"><div><span>9:00 Klíč/TKN</span></div></div>
<div class="c g" style="left:242px;top:789px;width:164px;height:73px"><div><span>09:30 Dokum. cykly</span><span>Česká příroda</span></div></div>
<div class="c g" style="left:242px;top:860px;width:164px;height:151px"><div><span>10:00 Zahraniční</span><span>dokument</span><span>Kamera na cestách</span></div></div>
<div class="c g" style="left:242px;top:1009px;width:164px;height:36px"><div><span>10:55 Postřehy</span><span>odjinud</span></div></div>
<div class="c g" style="left:242px;top:1043px;width:164px;height:73px"><div><span>11:00 Dokum. cykly</span><span>České památky</span></div></div>
<div class="c g" style="left:242px;top:1114px;width:164px;height:89px"><div><span>11:30 Náš venkov</span></div></div>
<div class="c g" style="left:242px;top:1201px;width:164px;height:81px"><div><span>11:50 Křesťanský</span><span>magazín</span></div></div>
<div class="c g" style="left:242px;top:1280px;width:164px;height:145px"><div><span>12:20 Talk show</span><span>Uchem jehly</span></div></div>
<div class="c g" style="left:242px;top:1423px;width:164px;height:155px"><div><span>12:50 Zahraniční</span><span>dokument</span><span>téma Lidé</span><span>a společnost</span></div></div>
<div class="c g" style="left:242px;top:1576px;width:164px;height:62px"><div><span>13:45</span><span>Československý</span><span>filmový týdeník</span></div></div>
<div class="c g" style="left:242px;top:1636px;width:164px;height:72px"><div><span>14:00 Historická</span><span>publicistika</span><span>Neznámí hrdinové</span></div></div>
<div class="c g" style="left:242px;top:1706px;width:164px;height:143px"><div><span>14:30 Dokument</span><span>zahraniční</span><span>Historie</span></div></div>
<div class="c g" style="left:242px;top:1847px;width:164px;height:150px"><div><span>15:30 Zahraniční</span><span>dokument</span><span>Mýty a fakta historie</span></div></div>
<div class="c g" style="left:242px;top:1995px;width:164px;height:73px"><div><span>16:30 Zahran. do-</span><span>kum. cykly</span><span>Svět zázraků</span></div></div>
<div class="c g" style="left:242px;top:2066px;width:164px;height:277px"><div><span>17:00 Dětský blok</span><span>Kavčí hnízdo</span></div></div>
<div class="c g" style="left:242px;top:2341px;width:164px;height:25px"><div><span>18:45 Večerníček</span></div></div>
<div class="c g" style="left:242px;top:2364px;width:164px;height:85px"><div><span>18:55 Seriál z dílny</span><span>Walta Disneye</span></div></div>
<div class="c g" style="left:242px;top:2447px;width:164px;height:61px"><div><span>19:25 Sitcom</span><span>Příběhy</span><span>A.Hitchcocka</span></div></div>
<div class="c g" style="left:242px;top:2506px;width:164px;height:57px"><div><span>19:50 Zprávy</span><span>v českém znakovém</span><span>jazyce</span></div></div>
<div class="c y" style="left:242px;top:2561px;width:164px;height:167px"><div><span>20:00 Dokument</span><span>zahraniční Histo-</span><span>rie – cykly Kronika</span><span style="transform:scaleX(0.9246);transform-origin:0 50%">III. říše, Letecká válka,</span><span>Göring, Konvoj a</span><span>další</span></div></div>
<div class="c y" style="left:242px;top:2726px;width:164px;height:179px"><div><span>21:00 Dokument</span><span>zahraniční</span><span>Věda a technika –</span><span>cykly Velký, větší,</span><span style="transform:scaleX(0.9676);transform-origin:0 50%">největší, Fatální střet,</span><span>Letecké katastrofy</span><span>a další</span></div></div>
<div class="c g" style="left:242px;top:2903px;width:164px;height:234px"><div><span>22:00</span><span>VELIKÁNI FILMU</span><span>zahraniční film</span></div></div>
<div class="c g" style="left:242px;top:3135px;width:164px;height:89px"><div><span>23:35</span><span>Kultovní seriál</span></div></div>
<div class="c g" style="left:242px;top:3222px;width:164px;height:120px"><div><span>00:05</span><span>Noční filmový klub</span></div></div>
<div class="c w" style="left:404px;top:227px;width:163px;height:394px"><div><span>05:59 Studio 6</span></div></div>
<div class="c w" style="left:404px;top:619px;width:163px;height:97px"><div><span>08:30 ŠKOLKA</span><span>NA JEDNIČCE</span><span>Kouzelná školka</span></div></div>
<div class="c w" style="left:404px;top:714px;width:163px;height:77px"><div><span>09:00 ŠKOLKA</span><span>NA JEDNIČCE</span><span>pokračování pásma</span><span>pořadů pro děti</span></div></div>
<div class="c w" style="left:404px;top:789px;width:163px;height:108px"><div><span>9:30 McLeodovy</span><span>dcery, poté Sever</span><span>a Jih</span></div></div>
<div class="c w" style="left:404px;top:895px;width:163px;height:92px"><div><span>10:15 Třináctá</span><span>komnata</span></div></div>
<div class="c w" style="left:404px;top:985px;width:163px;height:108px"><div><span>10:45 Cestopis:</span><span>Na cestě</span></div></div>
<div class="c w" style="left:404px;top:1091px;width:163px;height:136px"><div><span>11:15 Reportéři ČT</span></div></div>
<div class="c w" style="left:404px;top:1225px;width:163px;height:57px"><div><span>12:00 Zprávy ve 12</span></div></div>
<div class="c w" style="left:404px;top:1280px;width:163px;height:43px"><div><span>12:20 Počasí, BBV,</span><span>UVR*</span></div></div>
<div class="c w" style="left:404px;top:1321px;width:163px;height:317px"><div><span>SAMA DOMA</span><span>12:30 komponované</span><span>pásmo pořadů</span><span>(Praha)</span></div></div>
<div class="c w" style="left:404px;top:1636px;width:163px;height:72px"><div><span>14:00 Talk show</span></div></div>
<div class="c w" style="left:404px;top:1706px;width:163px;height:73px"><div><span>14:30 SITCOM</span><span>Moje rodina</span></div></div>
<div class="c w" style="left:404px;top:1777px;width:163px;height:142px"><div><span>15:00 Podfukáři I-VII</span></div></div>
<div class="c w" style="left:404px;top:1917px;width:163px;height:80px"><div><span>16:00 Cestománie</span></div></div>
<div class="c w" style="left:404px;top:1995px;width:163px;height:73px"><div><span>16:30 AZ-kvíz</span></div></div>
<div class="c w" style="left:404px;top:2066px;width:163px;height:112px"><div><span>17:00 Zábava</span></div></div>
<div class="c w" style="left:404px;top:2176px;width:163px;height:61px"><div><span>17:45 Černé ovce</span></div></div>
<div class="c w" style="left:404px;top:2235px;width:163px;height:61px"><div><span>18.00 Události v re-</span><span>gionech</span></div></div>
<div class="c r" style="left:404px;top:2294px;width:163px;height:61px"><div><span>18:30 Zábavný</span><span>pořad – soutěž</span><span>Můžeme dál?</span></div></div>
<div class="c w" style="left:404px;top:2353px;width:163px;height:38px"><div><span>18:56:50 Události</span><span>za okamžik a počasí</span></div></div>
<div class="c w" style="left:404px;top:2389px;width:163px;height:95px"><div><span>19:00 Události</span></div></div>
<div class="c w" style="left:404px;top:2482px;width:163px;height:26px"><div><span>19:50 BBV</span></div></div>
<div class="c w" style="left:404px;top:2506px;width:163px;height:57px"><div><span>19:59 Šťastných de-</span><span>set a Euromiliony</span></div></div>
<div class="c r" style="left:404px;top:2561px;width:163px;height:191px"><div><span>20:00 Nejlepší</span><span>Bakaláři</span></div></div>
<div class="c r" style="left:404px;top:2750px;width:163px;height:96px"><div><span>21:10 PUBLICIS-</span><span>TIKA MALÁ: Toulavá</span><span>kamera vychutnává</span><span>Slovensko, poté Rub</span><span>a líc</span></div></div>
<div class="c r" style="left:404px;top:2844px;width:163px;height:143px"><div><span>21:40 Komici</span><span>na jedničku</span></div></div>
<div class="c w" style="left:404px;top:2985px;width:163px;height:223px"><div><span>22:35 Pořad</span><span>(film) s osobností</span><span>z velkého českého</span><span>dokumentu – nava-</span><span style="transform:scaleX(0.9964);transform-origin:0 50%">zujeme na předchozí</span><span>pořad</span></div></div>
<div class="c w" style="left:404px;top:3206px;width:163px;height:18px"><div><span>00:00 Losování</span></div></div>
<div class="c w" style="left:404px;top:3222px;width:163px;height:120px"><div><span>00:05 Dempsey</span><span>a Makepeaceová</span></div></div>
<div class="c g" style="left:565px;top:227px;width:164px;height:394px"><div><span>06:00 Dobré ráno</span><span>na Dvojce</span></div></div>
<div class="c g" style="left:565px;top:619px;width:164px;height:97px"><div><span>08:30 PANORAMA</span></div></div>
<div class="c g" style="left:565px;top:714px;width:164px;height:77px"><div><span>09:00 Publicistický</span><span>dokument</span><span>Ochránce</span></div></div>
<div class="c g" style="left:565px;top:789px;width:164px;height:73px"><div><span style="transform:scaleX(0.9966);transform-origin:0 50%">09:30 Dokum. cyklus</span><span>Příběhy předmětů</span></div></div>
<div class="c g" style="left:565px;top:860px;width:164px;height:151px"><div><span>10:00 Zahraniční</span><span>dokument</span><span>Voda, moře oceány</span></div></div>
<div class="c g" style="left:565px;top:1009px;width:164px;height:36px"><div><span>10:55 Chcete je?</span></div></div>
<div class="c g" style="left:565px;top:1043px;width:164px;height:73px"><div><span>11:00 Britcom</span><span>(Černá zmije, Ano,</span><span>pane ministře…)</span></div></div>
<div class="c g" style="left:565px;top:1114px;width:164px;height:209px"><div><span>11:30 Zahraniční</span><span>dokument</span><span>Věda a technika</span></div></div>
<div class="c g" style="left:565px;top:1321px;width:164px;height:187px"><div><span>12:30 Zahraniční</span><span style="transform:scaleX(0.9906);transform-origin:0 50%">dokum. – publ.cyklus</span><span>Vesmír</span></div></div>
<div class="c g" style="left:565px;top:1506px;width:164px;height:96px"><div><span>13:15 Dobrodružství</span><span>vědy a techniky</span></div></div>
<div class="c g" style="left:565px;top:1600px;width:164px;height:167px"><div><span>13:55 Dokument</span><span>zahraniční</span><span>Dobrodružství,</span><span>napětí</span></div></div>
<div class="c g" style="left:565px;top:1765px;width:164px;height:154px"><div><span>14:55 PERLY</span><span>ČESKÉHO DOKU-</span><span>MENTU</span><span>aneb Pocta žánru</span><span>a jeho tvůrcům...</span></div></div>
<div class="c g" style="left:565px;top:1917px;width:164px;height:151px"><div><span>16:00 Zahraniční</span><span>dokument</span><span>téma Lidé</span><span>a společnost</span></div></div>
<div class="c g" style="left:565px;top:2066px;width:164px;height:277px"><div><span>17:00 Dětský blok</span><span>Kavčí hnízdo</span></div></div>
<div class="c g" style="left:565px;top:2341px;width:164px;height:25px"><div><span>18:45 Večerníček</span></div></div>
<div class="c g" style="left:565px;top:2364px;width:164px;height:85px"><div><span>18:55 Seriál z dílny</span><span>Walta Disneye</span></div></div>
<div class="c g" style="left:565px;top:2447px;width:164px;height:61px"><div><span>19:25 Sitcom</span><span>Příběhy</span><span>A.Hitchcocka</span></div></div>
<div class="c g" style="left:565px;top:2506px;width:164px;height:57px"><div><span>19:50 Zprávy</span><span>v českém znakovém</span><span>jazyce</span></div></div>
<div class="c y" style="left:565px;top:2561px;width:164px;height:167px"><div><span>20:00 Dokument</span><span>zahraniční – cykly</span><span>Speciální jednotky</span><span>zasahují, Speciální</span><span>operace NAVY</span><span>SEALS a další</span></div></div>
<div class="c g" style="left:565px;top:2726px;width:164px;height:144px"><div><span>21:00 Zahraniční</span><span>seriál</span><span>Přežít!</span></div></div>
<div class="c y" style="left:565px;top:2868px;width:164px;height:84px"><div><span>21:50 Aktuální publi-</span><span>cistika Pološero</span></div></div>
<div class="c g" style="left:565px;top:2950px;width:164px;height:258px"><div><span>22:20</span><span>CHODNÍKY SLÁVY</span></div></div>
<div class="c g" style="left:565px;top:3206px;width:164px;height:136px"><div><span>00:00 Zahraniční</span><span>Hudební klub</span></div></div>
<div class="c w" style="left:727px;top:227px;width:163px;height:394px"><div><span>05:59 Studio 6</span></div></div>
<div class="c w" style="left:727px;top:619px;width:163px;height:97px"><div><span>08:30 ŠKOLKA</span><span>NA JEDNIČCE</span><span>Kouzelná školka</span></div></div>
<div class="c w" style="left:727px;top:714px;width:163px;height:77px"><div><span>09:00 ŠKOLKA</span><span>NA JEDNIČCE</span><span>pokračování pásma</span><span>pořadů pro děti</span></div></div>
<div class="c w" style="left:727px;top:789px;width:163px;height:140px"><div><span>09:30 Komici</span><span>na jedničku</span></div></div>
<div class="c w" style="left:727px;top:927px;width:163px;height:300px"><div><span>10:25 Pořad</span><span>(film) s osobností</span><span>z velkého českého</span><span>dokumentu – nava-</span><span style="transform:scaleX(0.9964);transform-origin:0 50%">zujeme na předchozí</span><span>pořad</span></div></div>
<div class="c w" style="left:727px;top:1225px;width:163px;height:57px"><div><span>12:00 Zprávy ve 12</span></div></div>
<div class="c w" style="left:727px;top:1280px;width:163px;height:43px"><div><span>12:20 Počasí, BBV,</span><span>UVR*</span></div></div>
<div class="c w" style="left:727px;top:1321px;width:163px;height:317px"><div><span>SAMA DOMA</span><span>12:30 komponované</span><span>pásmo pořadů</span><span>(Praha)</span></div></div>
<div class="c w" style="left:727px;top:1636px;width:163px;height:72px"><div><span>14:00 Talk show</span></div></div>
<div class="c w" style="left:727px;top:1706px;width:163px;height:73px"><div><span>14:30 SITCOM</span><span>Moje rodina</span></div></div>
<div class="c w" style="left:727px;top:1777px;width:163px;height:142px"><div><span>15:00 Podfukáři I-VII</span></div></div>
<div class="c w" style="left:727px;top:1917px;width:163px;height:80px"><div><span>16:00 Cestománie</span></div></div>
<div class="c w" style="left:727px;top:1995px;width:163px;height:73px"><div><span>16:30 AZ-kvíz</span></div></div>
<div class="c w" style="left:727px;top:2066px;width:163px;height:112px"><div><span>17:00 Zábava</span></div></div>
<div class="c w" style="left:727px;top:2176px;width:163px;height:61px"><div><span>17:45 Černé ovce</span></div></div>
<div class="c w" style="left:727px;top:2235px;width:163px;height:61px"><div><span>18.00 Události v re-</span><span>gionech</span></div></div>
<div class="c r" style="left:727px;top:2294px;width:163px;height:61px"><div><span>18:30 Zábavný</span><span>pořad – soutěž</span><span>Můžeme dál?</span></div></div>
<div class="c w" style="left:727px;top:2353px;width:163px;height:38px"><div><span>18:56:50 Události</span><span>za okamžik a počasí</span></div></div>
<div class="c w" style="left:727px;top:2389px;width:163px;height:95px"><div><span>19:00 Události</span></div></div>
<div class="c w" style="left:727px;top:2482px;width:163px;height:26px"><div><span>19:50 BBV</span></div></div>
<div class="c w" style="left:727px;top:2506px;width:163px;height:57px"><div><span>19:59 Šťastných</span><span>deset a Sportka</span></div></div>
<div class="c r" style="left:727px;top:2561px;width:163px;height:167px"><div><span>20:00 SERIÁL</span><span>ČESKÝ: Ententýky</span></div></div>
<div class="c w" style="left:727px;top:2726px;width:163px;height:155px"><div><span style="transform:scaleX(0.9962);transform-origin:0 50%">21:00 Pošta pro tebe</span></div></div>
<div class="c r" style="left:727px;top:2879px;width:163px;height:84px"><div><span style="transform:scaleX(0.9676);transform-origin:0 50%">21:55 PUBLICISTIKA</span><span>MALÁ: Stopy, fakta,</span><span>tajemství</span></div></div>
<div class="c r" style="left:727px;top:2961px;width:163px;height:113px"><div><span style="transform:scaleX(0.9963);transform-origin:0 50%">22:25 Případy detek-</span><span>tiva Murdocha</span></div></div>
<div class="c w" style="left:727px;top:3072px;width:163px;height:77px"><div><span>23:10</span><span>Californication IV+V</span></div></div>
<div class="c w" style="left:727px;top:3147px;width:163px;height:18px"><div><span>23:40 Losování</span></div></div>
<div class="c w" style="left:727px;top:3163px;width:163px;height:179px"><div><span style="transform:scaleX(0.9906);transform-origin:0 50%">23:45 Zahraniční film</span></div></div>
<div class="c g" style="left:888px;top:227px;width:164px;height:394px"><div><span>06:00 Dobré ráno</span><span>na Dvojce</span></div></div>
<div class="c g" style="left:888px;top:619px;width:164px;height:97px"><div><span>08:30 PANORAMA</span></div></div>
<div class="c g" style="left:888px;top:714px;width:164px;height:77px"><div><span>09:00 Zahraniční</span><span>dokum. cyklus Svět</span><span>zázraků</span></div></div>
<div class="c g" style="left:888px;top:789px;width:164px;height:73px"><div><span>09:30 Království</span><span>divočiny</span></div></div>
<div class="c g" style="left:888px;top:860px;width:164px;height:151px"><div><span>10:00 Český doku-</span><span>ment/dokumentární</span><span>cyklus Sbohem</span><span>Československo</span></div></div>
<div class="c g" style="left:888px;top:1009px;width:164px;height:194px"><div><span>10:55 Zahraniční</span><span>seriál</span><span>Přežít!</span></div></div>
<div class="c g" style="left:888px;top:1201px;width:164px;height:81px"><div><span>11:50 Talk show</span><span>Krásný ztráty</span></div></div>
<div class="c g" style="left:888px;top:1280px;width:164px;height:54px"><div><span>12:20 Chcete mě?</span></div></div>
<div class="c g" style="left:888px;top:1332px;width:164px;height:93px"><div><span>12:35 Svět očima</span><span>Hanzelky a Zik-</span><span>munda/Příběhy pro</span><span>Natálku</span></div></div>
<div class="c g" style="left:888px;top:1423px;width:164px;height:97px"><div><span>12:50 Magazín</span><span>o národnostních</span><span>menšinách</span></div></div>
<div class="c g" style="left:888px;top:1518px;width:164px;height:72px"><div><span>13:20 Hranice bez</span><span>hranic</span></div></div>
<div class="c g" style="left:888px;top:1588px;width:164px;height:120px"><div><span>13:50 Talk show</span><span> Na forbíně TM</span></div></div>
<div class="c g" style="left:888px;top:1706px;width:164px;height:73px"><div><span>14:30 Cyklus</span><span>Památky světa</span></div></div>
<div class="c g" style="left:888px;top:1777px;width:164px;height:72px"><div><span>15:00 City Folk</span></div></div>
<div class="c g" style="left:888px;top:1847px;width:164px;height:72px"><div><span>15:30 Evropa dnes/</span><span>Kvarteto</span></div></div>
<div class="c g" style="left:888px;top:1917px;width:164px;height:151px"><div><span>16:00 Zahraniční</span><span>dokument. cykly</span><span>Svět umění</span></div></div>
<div class="c g" style="left:888px;top:2066px;width:164px;height:277px"><div><span>17:00 Dětský blok</span><span>Kavčí hnízdo</span></div></div>
<div class="c g" style="left:888px;top:2341px;width:164px;height:25px"><div><span>18:45 Večerníček</span></div></div>
<div class="c g" style="left:888px;top:2364px;width:164px;height:85px"><div><span>18:55 Seriál z dílny</span><span>Walta Disneye</span></div></div>
<div class="c g" style="left:888px;top:2447px;width:164px;height:61px"><div><span>19:25 Sitcom</span><span>Příběhy</span><span>A. Hitchcocka</span></div></div>
<div class="c g" style="left:888px;top:2506px;width:164px;height:57px"><div><span>19:50 Zprávy</span><span>v českém znakovém</span><span>jazyce</span></div></div>
<div class="c y" style="left:888px;top:2561px;width:164px;height:167px"><div><span>20:00 PERLY</span><span>ČESKÉHO DOKU-</span><span>MENTU</span><span>aneb Pocta žánru</span><span>a jeho tvůrcům…</span><span>nová uvedení</span></div></div>
<div class="c y" style="left:888px;top:2726px;width:164px;height:73px"><div><span>21:00</span><span>Intolerance, Ta naše</span><span>povaha česká</span></div></div>
<div class="c g" style="left:888px;top:2797px;width:164px;height:108px"><div><span>21:30 Talk show</span><span>Krásný ztráty</span></div></div>
<div class="c y" style="left:888px;top:2903px;width:164px;height:72px"><div><span>22:00 Zábava</span><span>Na stojáka</span></div></div>
<div class="c g" style="left:888px;top:2973px;width:164px;height:275px"><div><span style="transform:scaleX(0.9906);transform-origin:0 50%">22:30 Zahraniční film</span><span style="transform:scaleX(0.9868);transform-origin:0 50%">SVĚTOVÉ FILMOVÉ</span><span>PERLY</span></div></div>
<div class="c g" style="left:888px;top:3246px;width:164px;height:96px"><div><span>00:15 Studentský</span><span>film – FILMPOINT</span></div></div>
<div class="c w" style="left:1050px;top:227px;width:163px;height:394px"><div><span>05:59 Studio 6</span></div></div>
<div class="c w" style="left:1050px;top:619px;width:163px;height:97px"><div><span>08:30 ŠKOLKA</span><span>NA JEDNIČCE</span><span>Kouzelná školka</span></div></div>
<div class="c w" style="left:1050px;top:714px;width:163px;height:77px"><div><span>09:00 ŠKOLKA</span><span>NA JEDNIČCE</span><span>pokračování pásma</span><span>pořadů pro děti CPP</span></div></div>
<div class="c w" style="left:1050px;top:789px;width:163px;height:108px"><div><span>9:30 McLeodovy</span><span>dcery, poté Sever</span><span>a Jih</span></div></div>
<div class="c w" style="left:1050px;top:895px;width:163px;height:150px"><div><span>10:15</span><span>Všechnopárty</span></div></div>
<div class="c w" style="left:1050px;top:1043px;width:163px;height:184px"><div><span>11:00 Pošta pro tebe</span></div></div>
<div class="c w" style="left:1050px;top:1225px;width:163px;height:57px"><div><span>12:00 Zprávy ve 12</span></div></div>
<div class="c w" style="left:1050px;top:1280px;width:163px;height:43px"><div><span>12:20 Počasí, BBV,</span><span>UVR*</span></div></div>
<div class="c w" style="left:1050px;top:1321px;width:163px;height:317px"><div><span>SAMA DOMA</span><span>12:30 komponované</span><span>pásmo pořadů</span><span>(Praha)</span></div></div>
<div class="c w" style="left:1050px;top:1636px;width:163px;height:107px"><div><span>14:00 Talk show</span></div></div>
<div class="c w" style="left:1050px;top:1741px;width:163px;height:73px"><div><span>14:45 SITCOM</span><span>Moje rodina</span></div></div>
<div class="c w" style="left:1050px;top:1812px;width:163px;height:107px"><div><span>15:15 Bratři a sestry</span></div></div>
<div class="c w" style="left:1050px;top:1917px;width:163px;height:80px"><div><span>16:00 Cestománie</span></div></div>
<div class="c w" style="left:1050px;top:1995px;width:163px;height:73px"><div><span>16:30 AZ-kvíz</span></div></div>
<div class="c w" style="left:1050px;top:2066px;width:163px;height:60px"><div><span>16:55 Auto moto</span><span>pořad</span></div></div>
<div class="c w" style="left:1050px;top:2124px;width:163px;height:54px"><div><span>17:20 Zahrada</span><span>pod lupou</span></div></div>
<div class="c w" style="left:1050px;top:2176px;width:163px;height:61px"><div><span>17:45 Černé ovce</span></div></div>
<div class="c w" style="left:1050px;top:2235px;width:163px;height:61px"><div><span>18.00 Události v re-</span><span>gionech</span></div></div>
<div class="c r" style="left:1050px;top:2294px;width:163px;height:61px"><div><span>18:30 Zábavný</span><span>pořad – soutěž</span><span>Můžeme dál?</span></div></div>
<div class="c w" style="left:1050px;top:2353px;width:163px;height:38px"><div><span>18:56:50 Události</span><span>za okamžik a počasí</span></div></div>
<div class="c w" style="left:1050px;top:2389px;width:163px;height:95px"><div><span>19:00 Události</span></div></div>
<div class="c w" style="left:1050px;top:2482px;width:163px;height:26px"><div><span>19:50 BBV</span></div></div>
<div class="c w" style="left:1050px;top:2506px;width:163px;height:57px"><div><span>19:59 Šťastných</span><span>deset</span></div></div>
<div class="c r" style="left:1050px;top:2561px;width:163px;height:167px"><div><span>20:00 Nejlepší</span><span>Bakaláři</span></div></div>
<div class="c w" style="left:1050px;top:2726px;width:163px;height:144px"><div><span>21:00 Máte slovo</span><span>s M. Jílkovou</span></div></div>
<div class="c r" style="left:1050px;top:2868px;width:163px;height:84px"><div><span style="transform:scaleX(0.9676);transform-origin:0 50%">21:50 PUBLICISTIKA</span><span>Tísňová linka</span></div></div>
<div class="c r" style="left:1050px;top:2950px;width:163px;height:72px"><div><span>22:20 Okno</span><span>do hřbitova</span></div></div>
<div class="c w" style="left:1050px;top:3020px;width:163px;height:117px"><div><span>22:50 Podfukáři</span></div></div>
<div class="c w" style="left:1050px;top:3135px;width:163px;height:207px"><div><span style="transform:scaleX(0.9906);transform-origin:0 50%">23:40 Zahraniční film</span></div></div>
<div class="c g" style="left:1211px;top:227px;width:164px;height:394px"><div><span>06:00 Dobré ráno</span><span>na Dvojce</span></div></div>
<div class="c g" style="left:1211px;top:619px;width:164px;height:97px"><div><span>08:30 PANORAMA</span></div></div>
<div class="c g" style="left:1211px;top:714px;width:164px;height:77px"><div><span>09:00 Folklorní</span><span>magazín</span></div></div>
<div class="c g" style="left:1211px;top:789px;width:164px;height:73px"><div><span>09:30 Dokum.cykly</span><span>České památky</span></div></div>
<div class="c g" style="left:1211px;top:860px;width:164px;height:151px"><div><span>10:00 Zahraniční</span><span>dokument</span><span>Mýty a fakta historie</span></div></div>
<div class="c g" style="left:1211px;top:1009px;width:164px;height:96px"><div><span>10:55 Putování</span><span>za vínem</span></div></div>
<div class="c g" style="left:1211px;top:1103px;width:164px;height:89px"><div><span>11:25 Praha, město</span><span>věží archivní dokum.</span><span>cyklus</span></div></div>
<div class="c g" style="left:1211px;top:1190px;width:164px;height:60px"><div><span>11:45 Dechovka</span></div></div>
<div class="c g" style="left:1211px;top:1248px;width:164px;height:86px"><div><span>12:10 Dokum. cykly</span><span>Česká příroda</span></div></div>
<div class="c g" style="left:1211px;top:1332px;width:164px;height:133px"><div><span>12:35 O vědě</span><span>a vědcích</span></div></div>
<div class="c g" style="left:1211px;top:1463px;width:164px;height:18px"><div><span>13:05 Chcete je?</span></div></div>
<div class="c g" style="left:1211px;top:1479px;width:164px;height:88px"><div><span>13:10 Cesty víry</span></div></div>
<div class="c g" style="left:1211px;top:1565px;width:164px;height:96px"><div><span>13:40 Aktuální publi-</span><span>cistický dokument</span><span>Intolerance/Ta naše</span><span>povaha česká</span></div></div>
<div class="c g" style="left:1211px;top:1659px;width:164px;height:260px"><div><span style="transform:scaleX(0.9906);transform-origin:0 50%">14:10 Zahraniční film</span></div></div>
<div class="c g" style="left:1211px;top:1917px;width:164px;height:80px"><div><span style="transform:scaleX(0.9964);transform-origin:0 50%">16:00 Zdraví (pořady</span><span>Medicína pro</span><span>21.století, Diag-</span><span>nóza…)</span></div></div>
<div class="c g" style="left:1211px;top:1995px;width:164px;height:73px"><div><span>16:30 Klíč/TKN</span></div></div>
<div class="c g" style="left:1211px;top:2066px;width:164px;height:277px"><div><span>17:00 Dětský blok</span><span>Kavčí hnízdo“</span></div></div>
<div class="c g" style="left:1211px;top:2341px;width:164px;height:25px"><div><span>18:45 Večerníček</span></div></div>
<div class="c g" style="left:1211px;top:2364px;width:164px;height:85px"><div><span>18:55 Seriál z dílny</span><span>Walta Disneye</span></div></div>
<div class="c g" style="left:1211px;top:2447px;width:164px;height:61px"><div><span>19:25 Sitcom</span><span>Příběhy</span><span>A.Hitchcocka</span></div></div>
<div class="c g" style="left:1211px;top:2506px;width:164px;height:57px"><div><span>19:50 Zprávy</span><span>v českém znakovém</span><span>jazyce</span></div></div>
<div class="c y" style="left:1211px;top:2561px;width:164px;height:131px"><div><span>20:00 Dokument</span><span>zahraniční Kamera</span><span>na cestách – cykly</span><span>Vůně cizích krajů,</span><span>Na hranici existence</span><span>a další</span></div></div>
<div class="c g" style="left:1211px;top:2690px;width:164px;height:38px"><div><span>20:55 Postřehy</span><span>odjinud</span></div></div>
<div class="c y" style="left:1211px;top:2726px;width:164px;height:120px"><div><span>21:00 talk show</span><span>Na forbíně TM</span></div></div>
<div class="c y" style="left:1211px;top:2844px;width:164px;height:61px"><div><span>21:40 Kanadská</span><span>soda alternativní</span><span>zábava</span></div></div>
<div class="c g" style="left:1211px;top:2903px;width:164px;height:131px"><div><span>22:00 Zahraniční</span><span>seriál</span><span>Řím I+II</span></div></div>
<div class="c g" style="left:1211px;top:3032px;width:164px;height:145px"><div><span style="transform:scaleX(0.9905);transform-origin:0 50%">22:55 Kulturní maga-</span><span>zíny (333, Artmix,</span><span>Terra musica)</span><span>kulturní dokument</span></div></div>
<div class="c g" style="left:1211px;top:3175px;width:164px;height:167px"><div><span>23:50 Zahraniční</span><span>seriál</span></div></div>
<div class="c w" style="left:1373px;top:227px;width:163px;height:394px"><div><span>05:59 Studio 6</span></div></div>
<div class="c w" style="left:1373px;top:619px;width:163px;height:97px"><div><span>08:30 ŠKOLKA</span><span>NA JEDNIČCE</span><span>Kouzelná školka</span></div></div>
<div class="c w" style="left:1373px;top:714px;width:163px;height:77px"><div><span>09:00 ŠKOLKA</span><span>NA JEDNIČCE</span><span>pokračování pásma</span><span>pořadů pro děti CPP</span></div></div>
<div class="c w" style="left:1373px;top:789px;width:163px;height:108px"><div><span>9:30 McLeodovy</span><span>dcery, poté Sever</span><span>a Jih</span></div></div>
<div class="c w" style="left:1373px;top:895px;width:163px;height:150px"><div><span>10:15 Toulavá</span><span>kamera vychutnává</span><span>Slovensko, poté Rub</span><span>a líc</span></div></div>
<div class="c w" style="left:1373px;top:1043px;width:163px;height:184px"><div><span>11:00 Máte slovo</span><span>s M. Jílkovou</span></div></div>
<div class="c w" style="left:1373px;top:1225px;width:163px;height:57px"><div><span>12:00 Zprávy ve 12</span></div></div>
<div class="c w" style="left:1373px;top:1280px;width:163px;height:43px"><div><span>12:20 Počasí ,BBV,</span><span>UVR*</span></div></div>
<div class="c w" style="left:1373px;top:1321px;width:163px;height:317px"><div><span>SAMA DOMA</span><span>12:30 komponované</span><span>pásmo pořadů</span><span>(Brno, Ostrava)</span></div></div>
<div class="c w" style="left:1373px;top:1636px;width:163px;height:107px"><div><span>14:00 Talk show</span></div></div>
<div class="c w" style="left:1373px;top:1741px;width:163px;height:73px"><div><span>14:45 SITCOM</span><span>Moje rodina</span></div></div>
<div class="c w" style="left:1373px;top:1812px;width:163px;height:107px"><div><span>15:15 Bratři a sestry</span></div></div>
<div class="c w" style="left:1373px;top:1917px;width:163px;height:80px"><div><span>16:00 Bydlení je hra</span></div></div>
<div class="c w" style="left:1373px;top:1995px;width:163px;height:73px"><div><span>16:30 AZ-kvíz</span><span>Speciál</span></div></div>
<div class="c w" style="left:1373px;top:2066px;width:163px;height:60px"><div><span>17:00 Malá farma</span></div></div>
<div class="c w" style="left:1373px;top:2124px;width:163px;height:19px"><div><span>17:25 Besipky</span></div></div>
<div class="c w" style="left:1373px;top:2141px;width:163px;height:60px"><div><span>17:30 Černé ovce</span></div></div>
<div class="c w" style="left:1373px;top:2199px;width:163px;height:38px"><div><span>17:55 Počasí</span><span>v Evropě</span></div></div>
<div class="c w" style="left:1373px;top:2235px;width:163px;height:61px"><div><span>18.00 Události v re-</span><span>gionech</span></div></div>
<div class="c r" style="left:1373px;top:2294px;width:163px;height:61px"><div><span>18:30 Zábavný</span><span>pořad – soutěž</span><span>Můžeme dál?</span></div></div>
<div class="c w" style="left:1373px;top:2353px;width:163px;height:38px"><div><span>18:56:50 Události</span><span>za okamžik a počasí</span></div></div>
<div class="c w" style="left:1373px;top:2389px;width:163px;height:95px"><div><span>19:00 Události</span></div></div>
<div class="c w" style="left:1373px;top:2482px;width:163px;height:26px"><div><span>19:50 BBV</span></div></div>
<div class="c w" style="left:1373px;top:2506px;width:163px;height:57px"><div><span>19:59 Šťastných</span><span>deset</span></div></div>
<div class="c r" style="left:1373px;top:2561px;width:163px;height:167px"><div><span>20:00 Vyprávěj</span></div></div>
<div class="c w" style="left:1373px;top:2726px;width:163px;height:73px"><div><span>21:00 Třináctá</span><span>komnata</span></div></div>
<div class="c w" style="left:1373px;top:2797px;width:163px;height:143px"><div><span>21:30 Všechnopárty</span></div></div>
<div class="c r" style="left:1373px;top:2938px;width:163px;height:124px"><div><span>22:15 Zpátky se</span><span>Sobotou</span></div></div>
<div class="c w" style="left:1373px;top:3060px;width:163px;height:148px"><div><span>23:10 Kriminálka</span><span>Paříž</span></div></div>
<div class="c w" style="left:1373px;top:3206px;width:163px;height:136px"><div><span>00:00 Město žen</span><span>II+III</span></div></div>
<div class="c g" style="left:1534px;top:227px;width:164px;height:394px"><div><span>06:00 Dobré ráno</span><span>na Dvojce</span></div></div>
<div class="c g" style="left:1534px;top:619px;width:164px;height:97px"><div><span>08:30 PANORAMA</span></div></div>
<div class="c g" style="left:1534px;top:714px;width:164px;height:77px"><div><span>09:00 Nedej se,</span><span>Přidej se</span></div></div>
<div class="c g" style="left:1534px;top:789px;width:164px;height:73px"><div><span>09:30</span><span>Památky světa</span></div></div>
<div class="c g" style="left:1534px;top:860px;width:164px;height:151px"><div><span>10:00 Zahraniční</span><span>dokument téma Lidé</span><span>a společnost</span></div></div>
<div class="c g" style="left:1534px;top:1009px;width:164px;height:96px"><div><span>11:00 Na plovárně</span></div></div>
<div class="c g" style="left:1534px;top:1103px;width:164px;height:179px"><div><span>11:25 Barvy života</span></div></div>
<div class="c g" style="left:1534px;top:1280px;width:164px;height:54px"><div><span>12:20 Chcete mě?</span></div></div>
<div class="c g" style="left:1534px;top:1332px;width:164px;height:116px"><div><span style="transform:scaleX(0.9966);transform-origin:0 50%">12:35 Dokum. cyklus</span><span>Příběhy předmětů 1.</span></div></div>
<div class="c g" style="left:1534px;top:1446px;width:164px;height:62px"><div><span>13:00 Archivní</span><span>dokum.cyklus Jak</span><span>se žije</span></div></div>
<div class="c g" style="left:1534px;top:1506px;width:164px;height:72px"><div><span>13:15 Zahraniční</span><span>dokument</span><span>Království divočiny</span></div></div>
<div class="c g" style="left:1534px;top:1576px;width:164px;height:167px"><div><span>13:45 Zahraniční</span><span>dokument</span><span>Voda, moře oceány</span></div></div>
<div class="c g" style="left:1534px;top:1741px;width:164px;height:108px"><div><span>14:45 Dobrodružství</span><span>vědy a techniky</span></div></div>
<div class="c g" style="left:1534px;top:1847px;width:164px;height:150px"><div><span>15:30 Zahraniční</span><span>dokument</span><span>Věda a technika</span></div></div>
<div class="c g" style="left:1534px;top:1995px;width:164px;height:73px"><div><span>16:30 Dokumentární</span><span>cyklus City Folk</span></div></div>
<div class="c g" style="left:1534px;top:2066px;width:164px;height:277px"><div><span>17:00 Dětský blok</span><span>Kavčí hnízdo</span></div></div>
<div class="c g" style="left:1534px;top:2341px;width:164px;height:25px"><div><span>18:45 Večerníček</span></div></div>
<div class="c g" style="left:1534px;top:2364px;width:164px;height:85px"><div><span>18:55 Seriál z dílny</span><span>Walta Disneye</span></div></div>
<div class="c g" style="left:1534px;top:2447px;width:164px;height:61px"><div><span>19:25 Sitcom</span><span>Příběhy</span><span>A.Hitchcocka</span></div></div>
<div class="c g" style="left:1534px;top:2506px;width:164px;height:57px"><div><span>19:50 Zprávy</span><span>v českém znakovém</span><span>jazyce</span></div></div>
<div class="c y" style="left:1534px;top:2561px;width:164px;height:167px"><div><span>20:00 Dokument</span><span>zahraniční Zázračná</span><span>planeta – cykly Jižní</span><span>Pacifik, Neuvěřitelní</span><span>tvorové zvířecí říše,</span><span>Divoké srdce Afriky</span><span>a další</span></div></div>
<div class="c y" style="left:1534px;top:2726px;width:164px;height:132px"><div><span>21:00 Zahraniční do-</span><span>kum. – publ. cyklus</span><span>Vesmír</span></div></div>
<div class="c g" style="left:1534px;top:2856px;width:164px;height:246px"><div><span>21:45 VELIKÁNI</span><span>FILMU zahraniční</span><span>film</span></div></div>
<div class="c g" style="left:1534px;top:3100px;width:164px;height:148px"><div><span>23:20 ČT Live</span><span>koncerty všech</span><span>hudebních žánrů</span><span>kromě klasiky</span></div></div>
<div class="c g" style="left:1534px;top:3246px;width:164px;height:96px"><div><span>00:15 Queer tema-</span><span>tika</span></div></div>
<div class="c w" style="left:1696px;top:227px;width:163px;height:72px"><div><span>06:00 Zahraniční</span><span>animace pro děti</span></div></div>
<div class="c w" style="left:1696px;top:297px;width:163px;height:46px"><div><span>06:25 Pro nejmenší</span><span>děti: Kostičky</span></div></div>
<div class="c w" style="left:1696px;top:341px;width:163px;height:57px"><div><span>06:35 Pro nejmenší</span><span>děti: Pátrání</span><span>světlušky Lucie</span></div></div>
<div class="c w" style="left:1696px;top:396px;width:163px;height:225px"><div><span>06:50 Dětský</span><span>zahraniční film</span></div></div>
<div class="c w" style="left:1696px;top:619px;width:163px;height:267px"><div><span>08:30 Rodinný</span><span>zahraniční film</span></div></div>
<div class="c w" style="left:1696px;top:884px;width:163px;height:45px"><div><span>10:10 Vzdělávání</span><span>pro děti: Zprávičky</span></div></div>
<div class="c w" style="left:1696px;top:927px;width:163px;height:60px"><div><span>10:25</span><span>Autopropagační</span><span>pořad ČT: Svět ČT</span></div></div>
<div class="c w" style="left:1696px;top:985px;width:163px;height:242px"><div><span>10:45 My všichni</span><span>školou povinní</span></div></div>
<div class="c w" style="left:1696px;top:1225px;width:163px;height:98px"><div><span>12:00 Z metro-</span><span>pole (Praha)/Týden</span><span>v regionech (Brno,</span><span>Ostrava)</span></div></div>
<div class="c w" style="left:1696px;top:1321px;width:163px;height:127px"><div><span>12:30</span><span>Hoby naší doby</span></div></div>
<div class="c w" style="left:1696px;top:1446px;width:163px;height:19px"><div><span>13:00 Zprávy ČT</span></div></div>
<div class="c w" style="left:1696px;top:1463px;width:163px;height:175px"><div><span>13:05 Pohádka</span></div></div>
<div class="c w" style="left:1696px;top:1636px;width:163px;height:260px"><div><span>14:00</span><span>FILM PRO</span><span>PAMĚTNÍKY</span><span>česká provenience</span><span>– prvorepublikové</span><span>snímky</span></div></div>
<div class="c w" style="left:1696px;top:1894px;width:163px;height:103px"><div><span>15:50 Úsměvy s Ja-</span><span>romírem Hanzlíkem</span></div></div>
<div class="c w" style="left:1696px;top:1995px;width:163px;height:289px"><div><span>16:30 FILM</span><span>ZAHRANIČNÍ</span></div></div>
<div class="c w" style="left:1696px;top:2282px;width:163px;height:73px"><div><span>18:30 Kluci v akci</span></div></div>
<div class="c w" style="left:1696px;top:2353px;width:163px;height:38px"><div><span>18:56:50 Události</span><span>za okamžik a počasí</span></div></div>
<div class="c w" style="left:1696px;top:2389px;width:163px;height:95px"><div><span>19:00 Události</span></div></div>
<div class="c w" style="left:1696px;top:2482px;width:163px;height:26px"><div><span>19:45 BBV</span></div></div>
<div class="c w" style="left:1696px;top:2506px;width:163px;height:57px"><div><span>19:57 Šťastných de-</span><span>set a Euromiliony</span></div></div>
<div class="c r" style="left:1696px;top:2561px;width:163px;height:238px"><div><span>20:00 VELKÁ SO-</span><span>BOTNÍ ZÁBAVA</span><span><b>Trapasy, Zázraky</b></span><span><b>přírody,</b> StarDance</span></div></div>
<div class="c w" style="left:1696px;top:2797px;width:163px;height:248px"><div><span>21:30 FILM</span></div></div>
<div class="c w" style="left:1696px;top:3043px;width:163px;height:19px"><div><span>23:00 Euromiliony</span></div></div>
<div class="c w" style="left:1696px;top:3060px;width:163px;height:282px"><div><span>23:05 FILM</span></div></div>
<div class="c g" style="left:1857px;top:227px;width:164px;height:183px"><div><span>06:00 Dokument</span><span>zahraniční Historie</span></div></div>
<div class="c g" style="left:1857px;top:408px;width:164px;height:131px"><div><span>07:00 Doku-</span><span>ment zahraniční</span><span>Dobrodružství,</span><span>napětí</span></div></div>
<div class="c g" style="left:1857px;top:537px;width:164px;height:84px"><div><span>08:00 PANORAMA</span></div></div>
<div class="c g" style="left:1857px;top:619px;width:164px;height:39px"><div><span>08:30 Osobnost</span><span>na Dvojce</span></div></div>
<div class="c g" style="left:1857px;top:656px;width:164px;height:49px"><div><span>08:35 Náš venkov</span></div></div>
<div class="c g" style="left:1857px;top:703px;width:164px;height:61px"><div><span>08:55 Folklorní</span><span>magazín</span></div></div>
<div class="c g" style="left:1857px;top:762px;width:164px;height:76px"><div><span>09:20 Dechovka</span></div></div>
<div class="c g" style="left:1857px;top:836px;width:164px;height:73px"><div><span>09:50 Hranice</span><span>bez hranic</span></div></div>
<div class="c g" style="left:1857px;top:907px;width:164px;height:92px"><div><span>10:20 Kultura.cz</span></div></div>
<div class="c g" style="left:1857px;top:997px;width:164px;height:96px"><div><span>10:50 Divadlo žije</span></div></div>
<div class="c g" style="left:1857px;top:1091px;width:164px;height:101px"><div><span>11:20 Magazín</span><span>o národnostních</span><span>menšinách</span></div></div>
<div class="c g" style="left:1857px;top:1190px;width:164px;height:60px"><div><span>11:45 Zahr. cyklus</span><span>Památky světa</span></div></div>
<div class="c g" style="left:1857px;top:1248px;width:164px;height:342px"><div><span>12:10 Film</span><span>pamětnický – český</span><span>nebo zahraniční</span></div></div>
<div class="c g" style="left:1857px;top:1588px;width:164px;height:97px"><div><span>13:50 Dokum.cykly</span><span>České památky</span></div></div>
<div class="c g" style="left:1857px;top:1683px;width:164px;height:131px"><div><span style="transform:scaleX(0.9905);transform-origin:0 50%">14:20 Kulturní maga-</span><span>zíny (333, Artmix,</span><span>Terra musica)/kul-</span><span>turní dokument</span></div></div>
<div class="c g" style="left:1857px;top:1812px;width:164px;height:143px"><div><span>15:15 Zahraniční</span><span>dokument</span><span>Kamera na cestách</span></div></div>
<div class="c g" style="left:1857px;top:1953px;width:164px;height:150px"><div><span>16:15 Dokument</span><span style="transform:scaleX(0.9349);transform-origin:0 50%">zahraniční – Zázračná</span><span>planeta</span></div></div>
<div class="c g" style="left:1857px;top:2101px;width:164px;height:77px"><div><span>17:15 Rodinný seriál</span></div></div>
<div class="c g" style="left:1857px;top:2176px;width:164px;height:167px"><div><span style="transform:scaleX(0.9509);transform-origin:0 50%">17:45 DĚTSKÝ BLOK</span></div></div>
<div class="c g" style="left:1857px;top:2341px;width:164px;height:25px"><div><span>18:45 Večerníček</span></div></div>
<div class="c g" style="left:1857px;top:2364px;width:164px;height:97px"><div><span>18:55 Medúza</span></div></div>
<div class="c g" style="left:1857px;top:2459px;width:164px;height:104px"><div><span>19:30 Dokumentární</span><span>cyklus</span><span>City Folk</span></div></div>
<div class="c y" style="left:1857px;top:2561px;width:164px;height:167px"><div><span>20:00 Zahraniční</span><span>dokument</span><span>Mýty a fakta historie</span><span>– cykly Pyramidy,</span><span style="transform:scaleX(0.9907);transform-origin:0 50%">Osudy Říma, Hrobka</span><span>faraona, Zákulisí</span><span>Vatikánu a další</span></div></div>
<div class="c y" style="left:1857px;top:2726px;width:164px;height:319px"><div><span>21:00 Kulturní sobo-</span><span style="transform:scaleX(0.9848);transform-origin:0 50%">ta – Divadlo, koncert,</span><span>event – Dvořákova</span><span style="transform:scaleX(0.9564);transform-origin:0 50%">Praha koncert, Ptáko-</span><span>viny, Gershwin Gala</span><span>koncert, Jak se vám</span><span>líbí, Rigoletto, MTF</span><span>Zlatá Praha, Labutí</span><span>jezero balet, Revizor</span><span>a další</span></div></div>
<div class="c g" style="left:1857px;top:3043px;width:164px;height:299px"><div><span>23:00 Filmový klub/</span><span>Koncert</span></div></div>
<div class="c w" style="left:2019px;top:227px;width:163px;height:61px"><div><span>06:00 Zajímavosti</span><span>z regionů</span></div></div>
<div class="c w" style="left:2019px;top:286px;width:163px;height:57px"><div><span>06:25 Zahraniční</span><span>pořady pro děti</span><span>a mládež</span></div></div>
<div class="c w" style="left:2019px;top:341px;width:163px;height:81px"><div><span>06:40 Zahraniční</span><span>pořady – animace</span><span>pro děti</span></div></div>
<div class="c w" style="left:2019px;top:420px;width:163px;height:60px"><div><span>07:05 Zahraniční</span><span>animace pro děti</span></div></div>
<div class="c w" style="left:2019px;top:478px;width:163px;height:349px"><div><span>07:30 STUDIO</span><span>KAMARÁD</span></div></div>
<div class="c w" style="left:2019px;top:825px;width:163px;height:37px"><div><span>09:45 Kalendárium</span></div></div>
<div class="c w" style="left:2019px;top:860px;width:163px;height:69px"><div><span>10:00 Toulavá</span><span>kamera</span></div></div>
<div class="c w" style="left:2019px;top:927px;width:163px;height:84px"><div><span>10:25 Objektiv</span></div></div>
<div class="c w" style="left:2019px;top:1009px;width:163px;height:36px"><div><span style="transform:scaleX(0.9963);transform-origin:0 50%">10:55 Sváteční slovo</span></div></div>
<div class="c w" style="left:2019px;top:1043px;width:163px;height:184px"><div><span>11:00 Seriál nedělní</span></div></div>
<div class="c w" style="left:2019px;top:1225px;width:163px;height:223px"><div><span>12:00 Otázky</span><span>Václava Moravce</span></div></div>
<div class="c w" style="left:2019px;top:1446px;width:163px;height:19px"><div><span>13:00 Zprávy ČT</span></div></div>
<div class="c w" style="left:2019px;top:1463px;width:163px;height:175px"><div><span>13:05 Pohádka</span></div></div>
<div class="c w" style="left:2019px;top:1636px;width:163px;height:213px"><div><span>14:00 ZLATÝ FOND</span><span>původní dramatická</span><span>tvorba z archivu</span></div></div>
<div class="c r" style="left:2019px;top:1847px;width:163px;height:150px"><div><span>15:30 ZAHRANIČNÍ</span><span>SERIÁL – RETRO</span><span>Případy detektiva</span><span>Murdocha IV+V</span><span><b>Poirot I-V</b></span></div></div>
<div class="c w" style="left:2019px;top:1995px;width:163px;height:206px"><div><span>16:30 Film pro</span><span>mladší pamětníky</span></div></div>
<div class="c w" style="left:2019px;top:2199px;width:163px;height:156px"><div><span>18:00 Příběhy</span><span>slavných</span></div></div>
<div class="c w" style="left:2019px;top:2353px;width:163px;height:38px"><div><span>18:56:50 Události</span><span>za okamžik a počasí</span></div></div>
<div class="c w" style="left:2019px;top:2389px;width:163px;height:95px"><div><span>19:00 Události</span></div></div>
<div class="c w" style="left:2019px;top:2482px;width:163px;height:26px"><div><span>19:45 BBV</span></div></div>
<div class="c w" style="left:2019px;top:2506px;width:163px;height:57px"><div><span>19:57 Šťastných</span><span>deset a Sportka</span></div></div>
<div class="c r" style="left:2019px;top:2561px;width:163px;height:191px"><div><span>20:00 DRAMATIKA</span><span>Ztracená brána,</span><span>Ach, ty vraždy!</span><span>Setkání s hvězdou</span><span>Vánoční hvězda</span></div></div>
<div class="c w" style="left:2019px;top:2750px;width:163px;height:96px"><div><span>21:10 168 hodin</span></div></div>
<div class="c w" style="left:2019px;top:2844px;width:163px;height:230px"><div><span>21:40 Původní</span><span>dramatická tvorba</span><span>– V HLAVNÍ ROLI</span><span>ZLOČIN: Hříšní lidé</span><span>Města pražského,</span><span>Hříšní lidé města</span><span>brněnského</span></div></div>
<div class="c w" style="left:2019px;top:3072px;width:163px;height:18px"><div><span>23:10 Losování</span></div></div>
<div class="c w" style="left:2019px;top:3088px;width:163px;height:254px"><div><span>23:15 Komisař</span><span>Moulin</span></div></div>
<div class="c g" style="left:2180px;top:227px;width:163px;height:72px"><div><span>06:00 Cesty víry</span></div></div>
<div class="c g" style="left:2180px;top:297px;width:163px;height:113px"><div><span>06:30 Svět zázraků</span></div></div>
<div class="c g" style="left:2180px;top:408px;width:163px;height:131px"><div><span>07:00 Barvy života</span></div></div>
<div class="c g" style="left:2180px;top:537px;width:163px;height:84px"><div><span>08:00 PANORAMA</span></div></div>
<div class="c g" style="left:2180px;top:619px;width:163px;height:39px"><div><span>08:30 Osobnost</span><span>na Dvojce</span></div></div>
<div class="c g" style="left:2180px;top:656px;width:163px;height:37px"><div><span>08:35 Čsl. filmový</span><span>týdeník</span></div></div>
<div class="c g" style="left:2180px;top:691px;width:163px;height:49px"><div><span>08:50 Hledání ztra-</span><span>ceného času</span></div></div>
<div class="c g" style="left:2180px;top:738px;width:163px;height:136px"><div><span>09:10 Zahraniční do-</span><span>kument Svět umění</span></div></div>
<div class="c g" style="left:2180px;top:872px;width:163px;height:81px"><div><span>10:05 Kultura.cz</span></div></div>
<div class="c g" style="left:2180px;top:951px;width:163px;height:94px"><div><span>10:35 Nedej se,</span><span>Přidej se</span></div></div>
<div class="c g" style="left:2180px;top:1043px;width:163px;height:73px"><div><span>11:00 Publicistický</span><span>dokument Ochránce</span></div></div>
<div class="c g" style="left:2180px;top:1114px;width:163px;height:78px"><div><span>11:30 Svět očima</span><span>Hanzelky a Zikmun-</span><span>da/Příběhy pro</span><span>Natálku</span></div></div>
<div class="c g" style="left:2180px;top:1190px;width:163px;height:37px"><div><span>11:45 Chcete mě?</span></div></div>
<div class="c g" style="left:2180px;top:1225px;width:163px;height:365px"><div><span>12:00 Filmové</span><span>návraty</span></div></div>
<div class="c g" style="left:2180px;top:1588px;width:163px;height:167px"><div><span>13:50 Zahraniční</span><span>dokument</span><span>Voda, moře, oceány</span></div></div>
<div class="c g" style="left:2180px;top:1753px;width:163px;height:73px"><div><span>14:50 Křesťanský</span><span>magazín</span></div></div>
<div class="c g" style="left:2180px;top:1824px;width:163px;height:72px"><div><span>15:20 Talk show</span><span>Uchem jehly</span></div></div>
<div class="c g" style="left:2180px;top:1894px;width:163px;height:72px"><div><span>15:50 Cesty víry</span></div></div>
<div class="c g" style="left:2180px;top:1964px;width:163px;height:69px"><div><span>16:20 Historická</span><span>publicistika Neznámí</span><span>hrdinové</span></div></div>
<div class="c g" style="left:2180px;top:2031px;width:163px;height:72px"><div><span>16:45 Česká příroda</span></div></div>
<div class="c g" style="left:2180px;top:2101px;width:163px;height:77px"><div><span>17:15 Zahraniční</span><span>dokument</span><span>Království divočiny</span></div></div>
<div class="c g" style="left:2180px;top:2176px;width:163px;height:167px"><div><span>17:45 Dětský blok</span></div></div>
<div class="c g" style="left:2180px;top:2341px;width:163px;height:25px"><div><span>18:45 Večerníček</span></div></div>
<div class="c g" style="left:2180px;top:2364px;width:163px;height:85px"><div><span>18:55 Červený</span><span>trpaslík</span></div></div>
<div class="c g" style="left:2180px;top:2447px;width:163px;height:116px"><div><span>19:25 Putování</span><span>za vínem</span></div></div>
<div class="c y" style="left:2180px;top:2561px;width:163px;height:167px"><div><span>20:00 Český doku-</span><span>ment/dokumentární</span><span>cyklus Sbohem</span><span>Československo</span></div></div>
<div class="c g" style="left:2180px;top:2726px;width:163px;height:73px"><div><span>21:00 Britcom</span><span>(Černá zmije, Ano,</span><span>pane ministře…)</span></div></div>
<div class="c g" style="left:2180px;top:2797px;width:163px;height:108px"><div><span>21:30 Na plovárně</span></div></div>
<div class="c y" style="left:2180px;top:2903px;width:163px;height:142px"><div><span>22:00 Velký</span><span>zahraniční</span><span>seriál historický Bor-</span><span>giové, Pilíře Země</span></div></div>
<div class="c y" style="left:2180px;top:3043px;width:163px;height:299px"><div><span>23:00 Dokumentární</span><span>klub – Armadillo,</span><span>Rozhovory před</span><span>popravou, Sci-</span><span>entologie, pravda</span><span>o lži, Zapomenuté</span><span>transporty, Dallaský</span><span>atentát, Chodorkov-</span><span>skij – zločinec nebo</span><span>mučedník? a další</span></div></div>
<div class="f" style="left:47px">UVR* – Události v regionech+ (Brno/Ostrava)</div>
<div class="f" style="right:46px">Programové změny jsou vyhrazeny</div>
</body></html>
